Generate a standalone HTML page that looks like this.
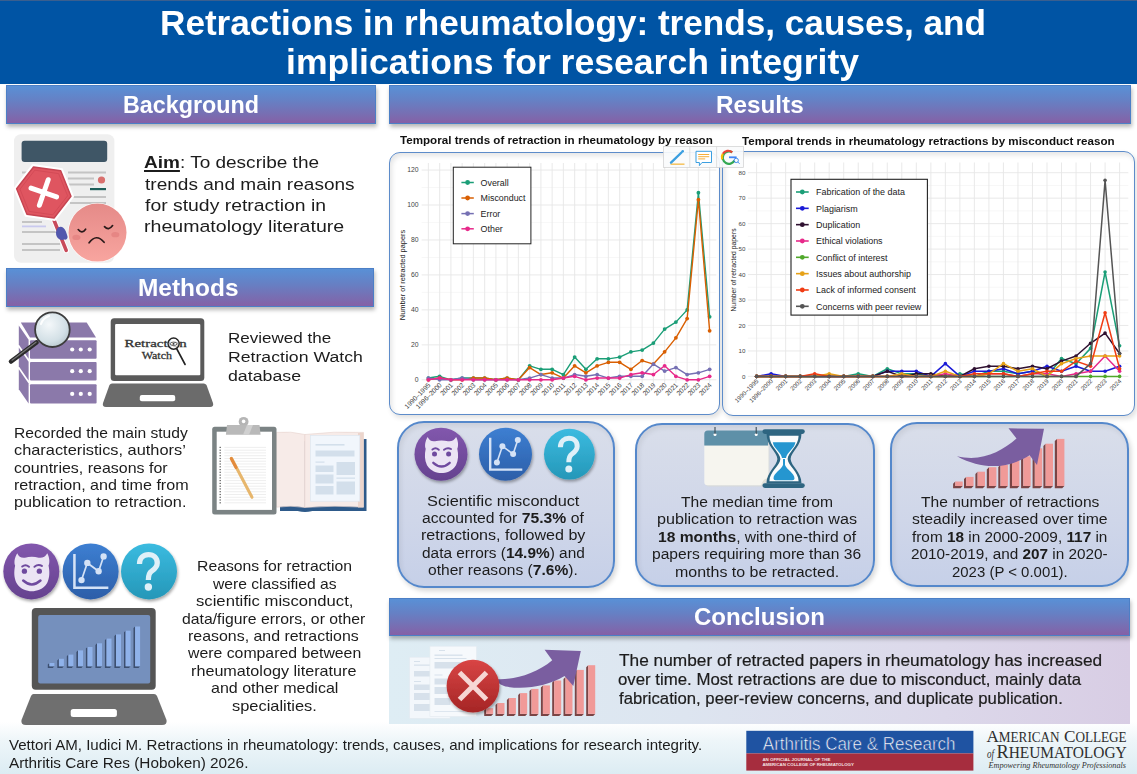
<!DOCTYPE html>
<html><head><meta charset="utf-8">
<style>
*{margin:0;padding:0;box-sizing:border-box}
html,body{width:1137px;height:774px;overflow:hidden;background:#fff}
body{position:relative;font-family:"Liberation Sans",sans-serif}
.a{position:absolute}
.t{position:absolute;white-space:nowrap;line-height:1;transform-origin:0 0}
.hdr{position:absolute;background:linear-gradient(180deg,#5990d6 0%,#6680c4 40%,#7a6cb0 80%,#8560a6 100%);border:1.3px solid #4c7fc6;box-shadow:1px 3px 4px rgba(0,0,0,0.28)}
.cbox{position:absolute;background:#fff;border:1.8px solid #5d8cca;border-radius:11px;box-shadow:inset 2px 3px 5px rgba(0,0,0,0.10),2px 3px 5px rgba(0,0,0,0.12)}
.sbox{position:absolute;background:linear-gradient(180deg,#d9deea 0%,#cfd6e9 60%,#c6d0e8 100%);border:2px solid #5588cb;border-radius:27px;box-shadow:inset 2px 3px 5px rgba(0,0,0,0.07),2px 3px 5px rgba(0,0,0,0.16)}
svg{position:absolute;left:0;top:0}
</style></head><body>
<!-- title bar -->
<div class="a" style="left:0;top:0;width:1137px;height:83.8px;background:#0054a4"></div>
<div class="a" style="left:0;top:0;width:1137px;height:1.2px;background:#3a5f8f"></div>
<!-- footer gradient -->
<div class="a" style="left:0;top:722px;width:1137px;height:52px;background:linear-gradient(180deg,#ffffff 0%,#eef6f9 35%,#dcecf3 100%)"></div>
<!-- headers -->
<div class="hdr" style="left:6px;top:85.3px;width:370px;height:38.5px"></div>
<div class="hdr" style="left:389.3px;top:85.3px;width:741.7px;height:38.5px"></div>
<div class="hdr" style="left:5.5px;top:268.3px;width:368.7px;height:38.5px"></div>
<!-- conclusion body -->
<div class="a" style="left:389px;top:635px;width:740.5px;height:88.5px;background:linear-gradient(90deg,#deedf4 0%,#dde5f0 40%,#dcd8ea 75%,#d8cde4 100%)"></div>
<div class="hdr" style="left:389px;top:597.5px;width:740.5px;height:38.3px"></div>
<!-- chart boxes -->
<div class="cbox" style="left:389.2px;top:152px;width:331.3px;height:263.4px"></div>
<div class="cbox" style="left:722.2px;top:150.5px;width:412.8px;height:265.1px"></div>
<!-- stat boxes -->
<div class="sbox" style="left:397px;top:421.2px;width:218px;height:166.8px"></div>
<div class="sbox" style="left:635px;top:422.5px;width:240px;height:164.9px"></div>
<div class="sbox" style="left:890.1px;top:421.7px;width:239.3px;height:165px"></div>
<svg width="1137" height="774" viewBox="0 0 1137 774" font-family="Liberation Sans, sans-serif">
<line x1="421.65" x2="716.4" y1="362.32" y2="362.32" stroke="#f2f2f2" stroke-width="0.6"/>
<line x1="421.65" x2="716.4" y1="327.36" y2="327.36" stroke="#f2f2f2" stroke-width="0.6"/>
<line x1="421.65" x2="716.4" y1="292.4" y2="292.4" stroke="#f2f2f2" stroke-width="0.6"/>
<line x1="421.65" x2="716.4" y1="257.44" y2="257.44" stroke="#f2f2f2" stroke-width="0.6"/>
<line x1="421.65" x2="716.4" y1="222.48" y2="222.48" stroke="#f2f2f2" stroke-width="0.6"/>
<line x1="421.65" x2="716.4" y1="187.52" y2="187.52" stroke="#f2f2f2" stroke-width="0.6"/>
<line x1="421.65" x2="716.4" y1="379.8" y2="379.8" stroke="#e6e6e6" stroke-width="0.9"/>
<line x1="421.65" x2="716.4" y1="344.84" y2="344.84" stroke="#e6e6e6" stroke-width="0.9"/>
<line x1="421.65" x2="716.4" y1="309.88" y2="309.88" stroke="#e6e6e6" stroke-width="0.9"/>
<line x1="421.65" x2="716.4" y1="274.92" y2="274.92" stroke="#e6e6e6" stroke-width="0.9"/>
<line x1="421.65" x2="716.4" y1="239.96" y2="239.96" stroke="#e6e6e6" stroke-width="0.9"/>
<line x1="421.65" x2="716.4" y1="205" y2="205" stroke="#e6e6e6" stroke-width="0.9"/>
<line x1="421.65" x2="716.4" y1="170.04" y2="170.04" stroke="#e6e6e6" stroke-width="0.9"/>
<line x1="428.4" x2="428.4" y1="163" y2="383" stroke="#e6e6e6" stroke-width="0.9"/>
<line x1="439.65" x2="439.65" y1="163" y2="383" stroke="#e6e6e6" stroke-width="0.9"/>
<line x1="450.9" x2="450.9" y1="163" y2="383" stroke="#e6e6e6" stroke-width="0.9"/>
<line x1="462.15" x2="462.15" y1="163" y2="383" stroke="#e6e6e6" stroke-width="0.9"/>
<line x1="473.4" x2="473.4" y1="163" y2="383" stroke="#e6e6e6" stroke-width="0.9"/>
<line x1="484.65" x2="484.65" y1="163" y2="383" stroke="#e6e6e6" stroke-width="0.9"/>
<line x1="495.9" x2="495.9" y1="163" y2="383" stroke="#e6e6e6" stroke-width="0.9"/>
<line x1="507.15" x2="507.15" y1="163" y2="383" stroke="#e6e6e6" stroke-width="0.9"/>
<line x1="518.4" x2="518.4" y1="163" y2="383" stroke="#e6e6e6" stroke-width="0.9"/>
<line x1="529.65" x2="529.65" y1="163" y2="383" stroke="#e6e6e6" stroke-width="0.9"/>
<line x1="540.9" x2="540.9" y1="163" y2="383" stroke="#e6e6e6" stroke-width="0.9"/>
<line x1="552.15" x2="552.15" y1="163" y2="383" stroke="#e6e6e6" stroke-width="0.9"/>
<line x1="563.4" x2="563.4" y1="163" y2="383" stroke="#e6e6e6" stroke-width="0.9"/>
<line x1="574.65" x2="574.65" y1="163" y2="383" stroke="#e6e6e6" stroke-width="0.9"/>
<line x1="585.9" x2="585.9" y1="163" y2="383" stroke="#e6e6e6" stroke-width="0.9"/>
<line x1="597.15" x2="597.15" y1="163" y2="383" stroke="#e6e6e6" stroke-width="0.9"/>
<line x1="608.4" x2="608.4" y1="163" y2="383" stroke="#e6e6e6" stroke-width="0.9"/>
<line x1="619.65" x2="619.65" y1="163" y2="383" stroke="#e6e6e6" stroke-width="0.9"/>
<line x1="630.9" x2="630.9" y1="163" y2="383" stroke="#e6e6e6" stroke-width="0.9"/>
<line x1="642.15" x2="642.15" y1="163" y2="383" stroke="#e6e6e6" stroke-width="0.9"/>
<line x1="653.4" x2="653.4" y1="163" y2="383" stroke="#e6e6e6" stroke-width="0.9"/>
<line x1="664.65" x2="664.65" y1="163" y2="383" stroke="#e6e6e6" stroke-width="0.9"/>
<line x1="675.9" x2="675.9" y1="163" y2="383" stroke="#e6e6e6" stroke-width="0.9"/>
<line x1="687.15" x2="687.15" y1="163" y2="383" stroke="#e6e6e6" stroke-width="0.9"/>
<line x1="698.4" x2="698.4" y1="163" y2="383" stroke="#e6e6e6" stroke-width="0.9"/>
<line x1="709.65" x2="709.65" y1="163" y2="383" stroke="#e6e6e6" stroke-width="0.9"/>
<text x="418.5" y="382.2" text-anchor="end" font-size="6.8" fill="#444">0</text>
<text x="418.5" y="347.24" text-anchor="end" font-size="6.8" fill="#444">20</text>
<text x="418.5" y="312.28" text-anchor="end" font-size="6.8" fill="#444">40</text>
<text x="418.5" y="277.32" text-anchor="end" font-size="6.8" fill="#444">60</text>
<text x="418.5" y="242.36" text-anchor="end" font-size="6.8" fill="#444">80</text>
<text x="418.5" y="207.4" text-anchor="end" font-size="6.8" fill="#444">100</text>
<text x="418.5" y="172.44" text-anchor="end" font-size="6.8" fill="#444">120</text>
<text x="431" y="385.5" text-anchor="end" font-size="6.7" fill="#3a3a3a" transform="rotate(-45 431 385.5)">1990–1995</text>
<text x="442.25" y="385.5" text-anchor="end" font-size="6.7" fill="#3a3a3a" transform="rotate(-45 442.25 385.5)">1996–2000</text>
<text x="453.5" y="385.5" text-anchor="end" font-size="6.7" fill="#3a3a3a" transform="rotate(-45 453.5 385.5)">2001</text>
<text x="464.75" y="385.5" text-anchor="end" font-size="6.7" fill="#3a3a3a" transform="rotate(-45 464.75 385.5)">2002</text>
<text x="476" y="385.5" text-anchor="end" font-size="6.7" fill="#3a3a3a" transform="rotate(-45 476 385.5)">2003</text>
<text x="487.25" y="385.5" text-anchor="end" font-size="6.7" fill="#3a3a3a" transform="rotate(-45 487.25 385.5)">2004</text>
<text x="498.5" y="385.5" text-anchor="end" font-size="6.7" fill="#3a3a3a" transform="rotate(-45 498.5 385.5)">2005</text>
<text x="509.75" y="385.5" text-anchor="end" font-size="6.7" fill="#3a3a3a" transform="rotate(-45 509.75 385.5)">2006</text>
<text x="521" y="385.5" text-anchor="end" font-size="6.7" fill="#3a3a3a" transform="rotate(-45 521 385.5)">2007</text>
<text x="532.25" y="385.5" text-anchor="end" font-size="6.7" fill="#3a3a3a" transform="rotate(-45 532.25 385.5)">2008</text>
<text x="543.5" y="385.5" text-anchor="end" font-size="6.7" fill="#3a3a3a" transform="rotate(-45 543.5 385.5)">2009</text>
<text x="554.75" y="385.5" text-anchor="end" font-size="6.7" fill="#3a3a3a" transform="rotate(-45 554.75 385.5)">2010</text>
<text x="566" y="385.5" text-anchor="end" font-size="6.7" fill="#3a3a3a" transform="rotate(-45 566 385.5)">2011</text>
<text x="577.25" y="385.5" text-anchor="end" font-size="6.7" fill="#3a3a3a" transform="rotate(-45 577.25 385.5)">2012</text>
<text x="588.5" y="385.5" text-anchor="end" font-size="6.7" fill="#3a3a3a" transform="rotate(-45 588.5 385.5)">2013</text>
<text x="599.75" y="385.5" text-anchor="end" font-size="6.7" fill="#3a3a3a" transform="rotate(-45 599.75 385.5)">2014</text>
<text x="611" y="385.5" text-anchor="end" font-size="6.7" fill="#3a3a3a" transform="rotate(-45 611 385.5)">2015</text>
<text x="622.25" y="385.5" text-anchor="end" font-size="6.7" fill="#3a3a3a" transform="rotate(-45 622.25 385.5)">2016</text>
<text x="633.5" y="385.5" text-anchor="end" font-size="6.7" fill="#3a3a3a" transform="rotate(-45 633.5 385.5)">2017</text>
<text x="644.75" y="385.5" text-anchor="end" font-size="6.7" fill="#3a3a3a" transform="rotate(-45 644.75 385.5)">2018</text>
<text x="656" y="385.5" text-anchor="end" font-size="6.7" fill="#3a3a3a" transform="rotate(-45 656 385.5)">2019</text>
<text x="667.25" y="385.5" text-anchor="end" font-size="6.7" fill="#3a3a3a" transform="rotate(-45 667.25 385.5)">2020</text>
<text x="678.5" y="385.5" text-anchor="end" font-size="6.7" fill="#3a3a3a" transform="rotate(-45 678.5 385.5)">2021</text>
<text x="689.75" y="385.5" text-anchor="end" font-size="6.7" fill="#3a3a3a" transform="rotate(-45 689.75 385.5)">2022</text>
<text x="701" y="385.5" text-anchor="end" font-size="6.7" fill="#3a3a3a" transform="rotate(-45 701 385.5)">2023</text>
<text x="712.25" y="385.5" text-anchor="end" font-size="6.7" fill="#3a3a3a" transform="rotate(-45 712.25 385.5)">2024</text>
<text x="0" y="0" text-anchor="middle" font-size="7.4" fill="#222" transform="translate(404.6 275) rotate(-90)">Number of retracted papers</text>
<polyline points="428.4,378.05 439.65,376.3 450.9,379.8 462.15,378.05 473.4,378.05 484.65,378.05 495.9,379.8 507.15,378.05 518.4,379.8 529.65,365.82 540.9,369.31 552.15,369.31 563.4,374.56 574.65,357.08 585.9,369.31 597.15,358.82 608.4,358.82 619.65,357.08 630.9,351.83 642.15,350.08 653.4,343.09 664.65,329.11 675.9,322.12 687.15,309.88 698.4,192.76 709.65,316.87" fill="none" stroke="#1b9e77" stroke-width="1.4" stroke-linejoin="round"/>
<circle cx="428.4" cy="378.05" r="1.9" fill="#1b9e77"/>
<circle cx="439.65" cy="376.3" r="1.9" fill="#1b9e77"/>
<circle cx="450.9" cy="379.8" r="1.9" fill="#1b9e77"/>
<circle cx="462.15" cy="378.05" r="1.9" fill="#1b9e77"/>
<circle cx="473.4" cy="378.05" r="1.9" fill="#1b9e77"/>
<circle cx="484.65" cy="378.05" r="1.9" fill="#1b9e77"/>
<circle cx="495.9" cy="379.8" r="1.9" fill="#1b9e77"/>
<circle cx="507.15" cy="378.05" r="1.9" fill="#1b9e77"/>
<circle cx="518.4" cy="379.8" r="1.9" fill="#1b9e77"/>
<circle cx="529.65" cy="365.82" r="1.9" fill="#1b9e77"/>
<circle cx="540.9" cy="369.31" r="1.9" fill="#1b9e77"/>
<circle cx="552.15" cy="369.31" r="1.9" fill="#1b9e77"/>
<circle cx="563.4" cy="374.56" r="1.9" fill="#1b9e77"/>
<circle cx="574.65" cy="357.08" r="1.9" fill="#1b9e77"/>
<circle cx="585.9" cy="369.31" r="1.9" fill="#1b9e77"/>
<circle cx="597.15" cy="358.82" r="1.9" fill="#1b9e77"/>
<circle cx="608.4" cy="358.82" r="1.9" fill="#1b9e77"/>
<circle cx="619.65" cy="357.08" r="1.9" fill="#1b9e77"/>
<circle cx="630.9" cy="351.83" r="1.9" fill="#1b9e77"/>
<circle cx="642.15" cy="350.08" r="1.9" fill="#1b9e77"/>
<circle cx="653.4" cy="343.09" r="1.9" fill="#1b9e77"/>
<circle cx="664.65" cy="329.11" r="1.9" fill="#1b9e77"/>
<circle cx="675.9" cy="322.12" r="1.9" fill="#1b9e77"/>
<circle cx="687.15" cy="309.88" r="1.9" fill="#1b9e77"/>
<circle cx="698.4" cy="192.76" r="1.9" fill="#1b9e77"/>
<circle cx="709.65" cy="316.87" r="1.9" fill="#1b9e77"/>
<polyline points="428.4,379.8 439.65,378.05 450.9,379.8 462.15,379.8 473.4,378.05 484.65,378.05 495.9,379.8 507.15,378.05 518.4,379.8 529.65,367.56 540.9,374.56 552.15,372.81 563.4,378.05 574.65,365.82 585.9,372.81 597.15,365.82 608.4,362.32 619.65,362.32 630.9,369.31 642.15,360.57 653.4,364.07 664.65,351.83 675.9,337.85 687.15,318.62 698.4,199.76 709.65,330.86" fill="none" stroke="#d95f02" stroke-width="1.4" stroke-linejoin="round"/>
<circle cx="428.4" cy="379.8" r="1.9" fill="#d95f02"/>
<circle cx="439.65" cy="378.05" r="1.9" fill="#d95f02"/>
<circle cx="450.9" cy="379.8" r="1.9" fill="#d95f02"/>
<circle cx="462.15" cy="379.8" r="1.9" fill="#d95f02"/>
<circle cx="473.4" cy="378.05" r="1.9" fill="#d95f02"/>
<circle cx="484.65" cy="378.05" r="1.9" fill="#d95f02"/>
<circle cx="495.9" cy="379.8" r="1.9" fill="#d95f02"/>
<circle cx="507.15" cy="378.05" r="1.9" fill="#d95f02"/>
<circle cx="518.4" cy="379.8" r="1.9" fill="#d95f02"/>
<circle cx="529.65" cy="367.56" r="1.9" fill="#d95f02"/>
<circle cx="540.9" cy="374.56" r="1.9" fill="#d95f02"/>
<circle cx="552.15" cy="372.81" r="1.9" fill="#d95f02"/>
<circle cx="563.4" cy="378.05" r="1.9" fill="#d95f02"/>
<circle cx="574.65" cy="365.82" r="1.9" fill="#d95f02"/>
<circle cx="585.9" cy="372.81" r="1.9" fill="#d95f02"/>
<circle cx="597.15" cy="365.82" r="1.9" fill="#d95f02"/>
<circle cx="608.4" cy="362.32" r="1.9" fill="#d95f02"/>
<circle cx="619.65" cy="362.32" r="1.9" fill="#d95f02"/>
<circle cx="630.9" cy="369.31" r="1.9" fill="#d95f02"/>
<circle cx="642.15" cy="360.57" r="1.9" fill="#d95f02"/>
<circle cx="653.4" cy="364.07" r="1.9" fill="#d95f02"/>
<circle cx="664.65" cy="351.83" r="1.9" fill="#d95f02"/>
<circle cx="675.9" cy="337.85" r="1.9" fill="#d95f02"/>
<circle cx="687.15" cy="318.62" r="1.9" fill="#d95f02"/>
<circle cx="698.4" cy="199.76" r="1.9" fill="#d95f02"/>
<circle cx="709.65" cy="330.86" r="1.9" fill="#d95f02"/>
<polyline points="428.4,378.05 439.65,379.8 450.9,379.8 462.15,378.05 473.4,379.8 484.65,379.8 495.9,379.8 507.15,379.8 518.4,379.8 529.65,378.05 540.9,374.56 552.15,378.05 563.4,378.05 574.65,374.56 585.9,376.3 597.15,374.56 608.4,378.05 619.65,376.3 630.9,376.3 642.15,376.3 653.4,364.07 664.65,371.06 675.9,367.56 687.15,374.56 698.4,372.81 709.65,369.31" fill="none" stroke="#7570b3" stroke-width="1.4" stroke-linejoin="round"/>
<circle cx="428.4" cy="378.05" r="1.9" fill="#7570b3"/>
<circle cx="439.65" cy="379.8" r="1.9" fill="#7570b3"/>
<circle cx="450.9" cy="379.8" r="1.9" fill="#7570b3"/>
<circle cx="462.15" cy="378.05" r="1.9" fill="#7570b3"/>
<circle cx="473.4" cy="379.8" r="1.9" fill="#7570b3"/>
<circle cx="484.65" cy="379.8" r="1.9" fill="#7570b3"/>
<circle cx="495.9" cy="379.8" r="1.9" fill="#7570b3"/>
<circle cx="507.15" cy="379.8" r="1.9" fill="#7570b3"/>
<circle cx="518.4" cy="379.8" r="1.9" fill="#7570b3"/>
<circle cx="529.65" cy="378.05" r="1.9" fill="#7570b3"/>
<circle cx="540.9" cy="374.56" r="1.9" fill="#7570b3"/>
<circle cx="552.15" cy="378.05" r="1.9" fill="#7570b3"/>
<circle cx="563.4" cy="378.05" r="1.9" fill="#7570b3"/>
<circle cx="574.65" cy="374.56" r="1.9" fill="#7570b3"/>
<circle cx="585.9" cy="376.3" r="1.9" fill="#7570b3"/>
<circle cx="597.15" cy="374.56" r="1.9" fill="#7570b3"/>
<circle cx="608.4" cy="378.05" r="1.9" fill="#7570b3"/>
<circle cx="619.65" cy="376.3" r="1.9" fill="#7570b3"/>
<circle cx="630.9" cy="376.3" r="1.9" fill="#7570b3"/>
<circle cx="642.15" cy="376.3" r="1.9" fill="#7570b3"/>
<circle cx="653.4" cy="364.07" r="1.9" fill="#7570b3"/>
<circle cx="664.65" cy="371.06" r="1.9" fill="#7570b3"/>
<circle cx="675.9" cy="367.56" r="1.9" fill="#7570b3"/>
<circle cx="687.15" cy="374.56" r="1.9" fill="#7570b3"/>
<circle cx="698.4" cy="372.81" r="1.9" fill="#7570b3"/>
<circle cx="709.65" cy="369.31" r="1.9" fill="#7570b3"/>
<polyline points="428.4,379.8 439.65,378.05 450.9,379.8 462.15,379.8 473.4,379.8 484.65,379.8 495.9,379.8 507.15,379.8 518.4,379.8 529.65,379.8 540.9,379.8 552.15,379.8 563.4,378.05 574.65,376.3 585.9,379.8 597.15,378.05 608.4,378.05 619.65,378.05 630.9,374.56 642.15,372.81 653.4,374.56 664.65,365.82 675.9,376.3 687.15,379.8 698.4,379.8 709.65,376.3" fill="none" stroke="#e7298a" stroke-width="1.4" stroke-linejoin="round"/>
<circle cx="428.4" cy="379.8" r="1.9" fill="#e7298a"/>
<circle cx="439.65" cy="378.05" r="1.9" fill="#e7298a"/>
<circle cx="450.9" cy="379.8" r="1.9" fill="#e7298a"/>
<circle cx="462.15" cy="379.8" r="1.9" fill="#e7298a"/>
<circle cx="473.4" cy="379.8" r="1.9" fill="#e7298a"/>
<circle cx="484.65" cy="379.8" r="1.9" fill="#e7298a"/>
<circle cx="495.9" cy="379.8" r="1.9" fill="#e7298a"/>
<circle cx="507.15" cy="379.8" r="1.9" fill="#e7298a"/>
<circle cx="518.4" cy="379.8" r="1.9" fill="#e7298a"/>
<circle cx="529.65" cy="379.8" r="1.9" fill="#e7298a"/>
<circle cx="540.9" cy="379.8" r="1.9" fill="#e7298a"/>
<circle cx="552.15" cy="379.8" r="1.9" fill="#e7298a"/>
<circle cx="563.4" cy="378.05" r="1.9" fill="#e7298a"/>
<circle cx="574.65" cy="376.3" r="1.9" fill="#e7298a"/>
<circle cx="585.9" cy="379.8" r="1.9" fill="#e7298a"/>
<circle cx="597.15" cy="378.05" r="1.9" fill="#e7298a"/>
<circle cx="608.4" cy="378.05" r="1.9" fill="#e7298a"/>
<circle cx="619.65" cy="378.05" r="1.9" fill="#e7298a"/>
<circle cx="630.9" cy="374.56" r="1.9" fill="#e7298a"/>
<circle cx="642.15" cy="372.81" r="1.9" fill="#e7298a"/>
<circle cx="653.4" cy="374.56" r="1.9" fill="#e7298a"/>
<circle cx="664.65" cy="365.82" r="1.9" fill="#e7298a"/>
<circle cx="675.9" cy="376.3" r="1.9" fill="#e7298a"/>
<circle cx="687.15" cy="379.8" r="1.9" fill="#e7298a"/>
<circle cx="698.4" cy="379.8" r="1.9" fill="#e7298a"/>
<circle cx="709.65" cy="376.3" r="1.9" fill="#e7298a"/>
<rect x="453.3" y="167.2" width="77.6" height="76.6" fill="#fff" stroke="#222" stroke-width="1"/>
<line x1="461.4" x2="473.8" y1="182.5" y2="182.5" stroke="#1b9e77" stroke-width="1.5"/>
<circle cx="467.6" cy="182.5" r="2.4" fill="#1b9e77"/>
<text x="480.6" y="185.7" font-size="8.9" fill="#222">Overall</text>
<line x1="461.4" x2="473.8" y1="198.0" y2="198.0" stroke="#d95f02" stroke-width="1.5"/>
<circle cx="467.6" cy="198.0" r="2.4" fill="#d95f02"/>
<text x="480.6" y="201.2" font-size="8.9" fill="#222">Misconduct</text>
<line x1="461.4" x2="473.8" y1="213.6" y2="213.6" stroke="#7570b3" stroke-width="1.5"/>
<circle cx="467.6" cy="213.6" r="2.4" fill="#7570b3"/>
<text x="480.6" y="216.8" font-size="8.9" fill="#222">Error</text>
<line x1="461.4" x2="473.8" y1="228.8" y2="228.8" stroke="#e7298a" stroke-width="1.5"/>
<circle cx="467.6" cy="228.8" r="2.4" fill="#e7298a"/>
<text x="480.6" y="232" font-size="8.9" fill="#222">Other</text>
<line x1="747.89" x2="1128.31" y1="363.67" y2="363.67" stroke="#f2f2f2" stroke-width="0.6"/>
<line x1="747.89" x2="1128.31" y1="338.21" y2="338.21" stroke="#f2f2f2" stroke-width="0.6"/>
<line x1="747.89" x2="1128.31" y1="312.75" y2="312.75" stroke="#f2f2f2" stroke-width="0.6"/>
<line x1="747.89" x2="1128.31" y1="287.29" y2="287.29" stroke="#f2f2f2" stroke-width="0.6"/>
<line x1="747.89" x2="1128.31" y1="261.83" y2="261.83" stroke="#f2f2f2" stroke-width="0.6"/>
<line x1="747.89" x2="1128.31" y1="236.37" y2="236.37" stroke="#f2f2f2" stroke-width="0.6"/>
<line x1="747.89" x2="1128.31" y1="210.91" y2="210.91" stroke="#f2f2f2" stroke-width="0.6"/>
<line x1="747.89" x2="1128.31" y1="185.45" y2="185.45" stroke="#f2f2f2" stroke-width="0.6"/>
<line x1="747.89" x2="1128.31" y1="376.4" y2="376.4" stroke="#e6e6e6" stroke-width="0.9"/>
<line x1="747.89" x2="1128.31" y1="350.94" y2="350.94" stroke="#e6e6e6" stroke-width="0.9"/>
<line x1="747.89" x2="1128.31" y1="325.48" y2="325.48" stroke="#e6e6e6" stroke-width="0.9"/>
<line x1="747.89" x2="1128.31" y1="300.02" y2="300.02" stroke="#e6e6e6" stroke-width="0.9"/>
<line x1="747.89" x2="1128.31" y1="274.56" y2="274.56" stroke="#e6e6e6" stroke-width="0.9"/>
<line x1="747.89" x2="1128.31" y1="249.1" y2="249.1" stroke="#e6e6e6" stroke-width="0.9"/>
<line x1="747.89" x2="1128.31" y1="223.64" y2="223.64" stroke="#e6e6e6" stroke-width="0.9"/>
<line x1="747.89" x2="1128.31" y1="198.18" y2="198.18" stroke="#e6e6e6" stroke-width="0.9"/>
<line x1="747.89" x2="1128.31" y1="172.72" y2="172.72" stroke="#e6e6e6" stroke-width="0.9"/>
<line x1="756.6" x2="756.6" y1="162.5" y2="380" stroke="#e6e6e6" stroke-width="0.9"/>
<line x1="771.12" x2="771.12" y1="162.5" y2="380" stroke="#e6e6e6" stroke-width="0.9"/>
<line x1="785.64" x2="785.64" y1="162.5" y2="380" stroke="#e6e6e6" stroke-width="0.9"/>
<line x1="800.16" x2="800.16" y1="162.5" y2="380" stroke="#e6e6e6" stroke-width="0.9"/>
<line x1="814.68" x2="814.68" y1="162.5" y2="380" stroke="#e6e6e6" stroke-width="0.9"/>
<line x1="829.2" x2="829.2" y1="162.5" y2="380" stroke="#e6e6e6" stroke-width="0.9"/>
<line x1="843.72" x2="843.72" y1="162.5" y2="380" stroke="#e6e6e6" stroke-width="0.9"/>
<line x1="858.24" x2="858.24" y1="162.5" y2="380" stroke="#e6e6e6" stroke-width="0.9"/>
<line x1="872.76" x2="872.76" y1="162.5" y2="380" stroke="#e6e6e6" stroke-width="0.9"/>
<line x1="887.28" x2="887.28" y1="162.5" y2="380" stroke="#e6e6e6" stroke-width="0.9"/>
<line x1="901.8" x2="901.8" y1="162.5" y2="380" stroke="#e6e6e6" stroke-width="0.9"/>
<line x1="916.32" x2="916.32" y1="162.5" y2="380" stroke="#e6e6e6" stroke-width="0.9"/>
<line x1="930.84" x2="930.84" y1="162.5" y2="380" stroke="#e6e6e6" stroke-width="0.9"/>
<line x1="945.36" x2="945.36" y1="162.5" y2="380" stroke="#e6e6e6" stroke-width="0.9"/>
<line x1="959.88" x2="959.88" y1="162.5" y2="380" stroke="#e6e6e6" stroke-width="0.9"/>
<line x1="974.4" x2="974.4" y1="162.5" y2="380" stroke="#e6e6e6" stroke-width="0.9"/>
<line x1="988.92" x2="988.92" y1="162.5" y2="380" stroke="#e6e6e6" stroke-width="0.9"/>
<line x1="1003.44" x2="1003.44" y1="162.5" y2="380" stroke="#e6e6e6" stroke-width="0.9"/>
<line x1="1017.96" x2="1017.96" y1="162.5" y2="380" stroke="#e6e6e6" stroke-width="0.9"/>
<line x1="1032.48" x2="1032.48" y1="162.5" y2="380" stroke="#e6e6e6" stroke-width="0.9"/>
<line x1="1047" x2="1047" y1="162.5" y2="380" stroke="#e6e6e6" stroke-width="0.9"/>
<line x1="1061.52" x2="1061.52" y1="162.5" y2="380" stroke="#e6e6e6" stroke-width="0.9"/>
<line x1="1076.04" x2="1076.04" y1="162.5" y2="380" stroke="#e6e6e6" stroke-width="0.9"/>
<line x1="1090.56" x2="1090.56" y1="162.5" y2="380" stroke="#e6e6e6" stroke-width="0.9"/>
<line x1="1105.08" x2="1105.08" y1="162.5" y2="380" stroke="#e6e6e6" stroke-width="0.9"/>
<line x1="1119.6" x2="1119.6" y1="162.5" y2="380" stroke="#e6e6e6" stroke-width="0.9"/>
<text x="745.5" y="378.6" text-anchor="end" font-size="6.2" fill="#444">0</text>
<text x="745.5" y="353.14" text-anchor="end" font-size="6.2" fill="#444">10</text>
<text x="745.5" y="327.68" text-anchor="end" font-size="6.2" fill="#444">20</text>
<text x="745.5" y="302.22" text-anchor="end" font-size="6.2" fill="#444">30</text>
<text x="745.5" y="276.76" text-anchor="end" font-size="6.2" fill="#444">40</text>
<text x="745.5" y="251.3" text-anchor="end" font-size="6.2" fill="#444">50</text>
<text x="745.5" y="225.84" text-anchor="end" font-size="6.2" fill="#444">60</text>
<text x="745.5" y="200.38" text-anchor="end" font-size="6.2" fill="#444">70</text>
<text x="745.5" y="174.92" text-anchor="end" font-size="6.2" fill="#444">80</text>
<text x="758.8" y="381.5" text-anchor="end" font-size="6.1" fill="#3a3a3a" transform="rotate(-45 758.8 381.5)">1990–1995</text>
<text x="773.32" y="381.5" text-anchor="end" font-size="6.1" fill="#3a3a3a" transform="rotate(-45 773.32 381.5)">1996–2000</text>
<text x="787.84" y="381.5" text-anchor="end" font-size="6.1" fill="#3a3a3a" transform="rotate(-45 787.84 381.5)">2001</text>
<text x="802.36" y="381.5" text-anchor="end" font-size="6.1" fill="#3a3a3a" transform="rotate(-45 802.36 381.5)">2002</text>
<text x="816.88" y="381.5" text-anchor="end" font-size="6.1" fill="#3a3a3a" transform="rotate(-45 816.88 381.5)">2003</text>
<text x="831.4" y="381.5" text-anchor="end" font-size="6.1" fill="#3a3a3a" transform="rotate(-45 831.4 381.5)">2004</text>
<text x="845.92" y="381.5" text-anchor="end" font-size="6.1" fill="#3a3a3a" transform="rotate(-45 845.92 381.5)">2005</text>
<text x="860.44" y="381.5" text-anchor="end" font-size="6.1" fill="#3a3a3a" transform="rotate(-45 860.44 381.5)">2006</text>
<text x="874.96" y="381.5" text-anchor="end" font-size="6.1" fill="#3a3a3a" transform="rotate(-45 874.96 381.5)">2007</text>
<text x="889.48" y="381.5" text-anchor="end" font-size="6.1" fill="#3a3a3a" transform="rotate(-45 889.48 381.5)">2008</text>
<text x="904" y="381.5" text-anchor="end" font-size="6.1" fill="#3a3a3a" transform="rotate(-45 904 381.5)">2009</text>
<text x="918.52" y="381.5" text-anchor="end" font-size="6.1" fill="#3a3a3a" transform="rotate(-45 918.52 381.5)">2010</text>
<text x="933.04" y="381.5" text-anchor="end" font-size="6.1" fill="#3a3a3a" transform="rotate(-45 933.04 381.5)">2011</text>
<text x="947.56" y="381.5" text-anchor="end" font-size="6.1" fill="#3a3a3a" transform="rotate(-45 947.56 381.5)">2012</text>
<text x="962.08" y="381.5" text-anchor="end" font-size="6.1" fill="#3a3a3a" transform="rotate(-45 962.08 381.5)">2013</text>
<text x="976.6" y="381.5" text-anchor="end" font-size="6.1" fill="#3a3a3a" transform="rotate(-45 976.6 381.5)">2014</text>
<text x="991.12" y="381.5" text-anchor="end" font-size="6.1" fill="#3a3a3a" transform="rotate(-45 991.12 381.5)">2015</text>
<text x="1005.64" y="381.5" text-anchor="end" font-size="6.1" fill="#3a3a3a" transform="rotate(-45 1005.64 381.5)">2016</text>
<text x="1020.16" y="381.5" text-anchor="end" font-size="6.1" fill="#3a3a3a" transform="rotate(-45 1020.16 381.5)">2017</text>
<text x="1034.68" y="381.5" text-anchor="end" font-size="6.1" fill="#3a3a3a" transform="rotate(-45 1034.68 381.5)">2018</text>
<text x="1049.2" y="381.5" text-anchor="end" font-size="6.1" fill="#3a3a3a" transform="rotate(-45 1049.2 381.5)">2019</text>
<text x="1063.72" y="381.5" text-anchor="end" font-size="6.1" fill="#3a3a3a" transform="rotate(-45 1063.72 381.5)">2020</text>
<text x="1078.24" y="381.5" text-anchor="end" font-size="6.1" fill="#3a3a3a" transform="rotate(-45 1078.24 381.5)">2021</text>
<text x="1092.76" y="381.5" text-anchor="end" font-size="6.1" fill="#3a3a3a" transform="rotate(-45 1092.76 381.5)">2022</text>
<text x="1107.28" y="381.5" text-anchor="end" font-size="6.1" fill="#3a3a3a" transform="rotate(-45 1107.28 381.5)">2023</text>
<text x="1121.8" y="381.5" text-anchor="end" font-size="6.1" fill="#3a3a3a" transform="rotate(-45 1121.8 381.5)">2024</text>
<text x="0" y="0" text-anchor="middle" font-size="6.8" fill="#222" transform="translate(735.6 270) rotate(-90)">Number of retracted papers</text>
<polyline points="756.6,376.4 771.12,376.4 785.64,376.4 800.16,376.4 814.68,376.4 829.2,376.4 843.72,376.4 858.24,373.85 872.76,376.4 887.28,368.76 901.8,373.85 916.32,373.85 930.84,376.4 945.36,376.4 959.88,373.85 974.4,376.4 988.92,371.31 1003.44,371.31 1017.96,373.85 1032.48,371.31 1047,376.4 1061.52,358.58 1076.04,363.67 1090.56,348.39 1105.08,272.01 1119.6,345.85" fill="none" stroke="#1b9e77" stroke-width="1.5" stroke-linejoin="round"/>
<circle cx="756.6" cy="376.4" r="1.8" fill="#1b9e77"/>
<circle cx="771.12" cy="376.4" r="1.8" fill="#1b9e77"/>
<circle cx="785.64" cy="376.4" r="1.8" fill="#1b9e77"/>
<circle cx="800.16" cy="376.4" r="1.8" fill="#1b9e77"/>
<circle cx="814.68" cy="376.4" r="1.8" fill="#1b9e77"/>
<circle cx="829.2" cy="376.4" r="1.8" fill="#1b9e77"/>
<circle cx="843.72" cy="376.4" r="1.8" fill="#1b9e77"/>
<circle cx="858.24" cy="373.85" r="1.8" fill="#1b9e77"/>
<circle cx="872.76" cy="376.4" r="1.8" fill="#1b9e77"/>
<circle cx="887.28" cy="368.76" r="1.8" fill="#1b9e77"/>
<circle cx="901.8" cy="373.85" r="1.8" fill="#1b9e77"/>
<circle cx="916.32" cy="373.85" r="1.8" fill="#1b9e77"/>
<circle cx="930.84" cy="376.4" r="1.8" fill="#1b9e77"/>
<circle cx="945.36" cy="376.4" r="1.8" fill="#1b9e77"/>
<circle cx="959.88" cy="373.85" r="1.8" fill="#1b9e77"/>
<circle cx="974.4" cy="376.4" r="1.8" fill="#1b9e77"/>
<circle cx="988.92" cy="371.31" r="1.8" fill="#1b9e77"/>
<circle cx="1003.44" cy="371.31" r="1.8" fill="#1b9e77"/>
<circle cx="1017.96" cy="373.85" r="1.8" fill="#1b9e77"/>
<circle cx="1032.48" cy="371.31" r="1.8" fill="#1b9e77"/>
<circle cx="1047" cy="376.4" r="1.8" fill="#1b9e77"/>
<circle cx="1061.52" cy="358.58" r="1.8" fill="#1b9e77"/>
<circle cx="1076.04" cy="363.67" r="1.8" fill="#1b9e77"/>
<circle cx="1090.56" cy="348.39" r="1.8" fill="#1b9e77"/>
<circle cx="1105.08" cy="272.01" r="1.8" fill="#1b9e77"/>
<circle cx="1119.6" cy="345.85" r="1.8" fill="#1b9e77"/>
<polyline points="756.6,376.4 771.12,373.85 785.64,376.4 800.16,376.4 814.68,376.4 829.2,376.4 843.72,376.4 858.24,376.4 872.76,376.4 887.28,371.31 901.8,371.31 916.32,371.31 930.84,376.4 945.36,363.67 959.88,376.4 974.4,371.31 988.92,371.31 1003.44,368.76 1017.96,373.85 1032.48,371.31 1047,366.22 1061.52,371.31 1076.04,366.22 1090.56,371.31 1105.08,371.31 1119.6,366.22" fill="none" stroke="#1a1ad6" stroke-width="1.5" stroke-linejoin="round"/>
<circle cx="756.6" cy="376.4" r="1.8" fill="#1a1ad6"/>
<circle cx="771.12" cy="373.85" r="1.8" fill="#1a1ad6"/>
<circle cx="785.64" cy="376.4" r="1.8" fill="#1a1ad6"/>
<circle cx="800.16" cy="376.4" r="1.8" fill="#1a1ad6"/>
<circle cx="814.68" cy="376.4" r="1.8" fill="#1a1ad6"/>
<circle cx="829.2" cy="376.4" r="1.8" fill="#1a1ad6"/>
<circle cx="843.72" cy="376.4" r="1.8" fill="#1a1ad6"/>
<circle cx="858.24" cy="376.4" r="1.8" fill="#1a1ad6"/>
<circle cx="872.76" cy="376.4" r="1.8" fill="#1a1ad6"/>
<circle cx="887.28" cy="371.31" r="1.8" fill="#1a1ad6"/>
<circle cx="901.8" cy="371.31" r="1.8" fill="#1a1ad6"/>
<circle cx="916.32" cy="371.31" r="1.8" fill="#1a1ad6"/>
<circle cx="930.84" cy="376.4" r="1.8" fill="#1a1ad6"/>
<circle cx="945.36" cy="363.67" r="1.8" fill="#1a1ad6"/>
<circle cx="959.88" cy="376.4" r="1.8" fill="#1a1ad6"/>
<circle cx="974.4" cy="371.31" r="1.8" fill="#1a1ad6"/>
<circle cx="988.92" cy="371.31" r="1.8" fill="#1a1ad6"/>
<circle cx="1003.44" cy="368.76" r="1.8" fill="#1a1ad6"/>
<circle cx="1017.96" cy="373.85" r="1.8" fill="#1a1ad6"/>
<circle cx="1032.48" cy="371.31" r="1.8" fill="#1a1ad6"/>
<circle cx="1047" cy="366.22" r="1.8" fill="#1a1ad6"/>
<circle cx="1061.52" cy="371.31" r="1.8" fill="#1a1ad6"/>
<circle cx="1076.04" cy="366.22" r="1.8" fill="#1a1ad6"/>
<circle cx="1090.56" cy="371.31" r="1.8" fill="#1a1ad6"/>
<circle cx="1105.08" cy="371.31" r="1.8" fill="#1a1ad6"/>
<circle cx="1119.6" cy="366.22" r="1.8" fill="#1a1ad6"/>
<polyline points="756.6,376.4 771.12,376.4 785.64,376.4 800.16,376.4 814.68,376.4 829.2,376.4 843.72,376.4 858.24,376.4 872.76,376.4 887.28,371.31 901.8,376.4 916.32,373.85 930.84,373.85 945.36,376.4 959.88,376.4 974.4,368.76 988.92,366.22 1003.44,366.22 1017.96,368.76 1032.48,366.22 1047,368.76 1061.52,361.12 1076.04,356.03 1090.56,343.3 1105.08,333.12 1119.6,353.49" fill="none" stroke="#2e1030" stroke-width="1.5" stroke-linejoin="round"/>
<circle cx="756.6" cy="376.4" r="1.8" fill="#2e1030"/>
<circle cx="771.12" cy="376.4" r="1.8" fill="#2e1030"/>
<circle cx="785.64" cy="376.4" r="1.8" fill="#2e1030"/>
<circle cx="800.16" cy="376.4" r="1.8" fill="#2e1030"/>
<circle cx="814.68" cy="376.4" r="1.8" fill="#2e1030"/>
<circle cx="829.2" cy="376.4" r="1.8" fill="#2e1030"/>
<circle cx="843.72" cy="376.4" r="1.8" fill="#2e1030"/>
<circle cx="858.24" cy="376.4" r="1.8" fill="#2e1030"/>
<circle cx="872.76" cy="376.4" r="1.8" fill="#2e1030"/>
<circle cx="887.28" cy="371.31" r="1.8" fill="#2e1030"/>
<circle cx="901.8" cy="376.4" r="1.8" fill="#2e1030"/>
<circle cx="916.32" cy="373.85" r="1.8" fill="#2e1030"/>
<circle cx="930.84" cy="373.85" r="1.8" fill="#2e1030"/>
<circle cx="945.36" cy="376.4" r="1.8" fill="#2e1030"/>
<circle cx="959.88" cy="376.4" r="1.8" fill="#2e1030"/>
<circle cx="974.4" cy="368.76" r="1.8" fill="#2e1030"/>
<circle cx="988.92" cy="366.22" r="1.8" fill="#2e1030"/>
<circle cx="1003.44" cy="366.22" r="1.8" fill="#2e1030"/>
<circle cx="1017.96" cy="368.76" r="1.8" fill="#2e1030"/>
<circle cx="1032.48" cy="366.22" r="1.8" fill="#2e1030"/>
<circle cx="1047" cy="368.76" r="1.8" fill="#2e1030"/>
<circle cx="1061.52" cy="361.12" r="1.8" fill="#2e1030"/>
<circle cx="1076.04" cy="356.03" r="1.8" fill="#2e1030"/>
<circle cx="1090.56" cy="343.3" r="1.8" fill="#2e1030"/>
<circle cx="1105.08" cy="333.12" r="1.8" fill="#2e1030"/>
<circle cx="1119.6" cy="353.49" r="1.8" fill="#2e1030"/>
<polyline points="756.6,376.4 771.12,376.4 785.64,376.4 800.16,376.4 814.68,376.4 829.2,376.4 843.72,376.4 858.24,376.4 872.76,376.4 887.28,376.4 901.8,376.4 916.32,376.4 930.84,376.4 945.36,373.85 959.88,376.4 974.4,376.4 988.92,373.85 1003.44,373.85 1017.96,376.4 1032.48,373.85 1047,373.85 1061.52,376.4 1076.04,373.85 1090.56,371.31 1105.08,356.03 1119.6,371.31" fill="none" stroke="#e7298a" stroke-width="1.5" stroke-linejoin="round"/>
<circle cx="756.6" cy="376.4" r="1.8" fill="#e7298a"/>
<circle cx="771.12" cy="376.4" r="1.8" fill="#e7298a"/>
<circle cx="785.64" cy="376.4" r="1.8" fill="#e7298a"/>
<circle cx="800.16" cy="376.4" r="1.8" fill="#e7298a"/>
<circle cx="814.68" cy="376.4" r="1.8" fill="#e7298a"/>
<circle cx="829.2" cy="376.4" r="1.8" fill="#e7298a"/>
<circle cx="843.72" cy="376.4" r="1.8" fill="#e7298a"/>
<circle cx="858.24" cy="376.4" r="1.8" fill="#e7298a"/>
<circle cx="872.76" cy="376.4" r="1.8" fill="#e7298a"/>
<circle cx="887.28" cy="376.4" r="1.8" fill="#e7298a"/>
<circle cx="901.8" cy="376.4" r="1.8" fill="#e7298a"/>
<circle cx="916.32" cy="376.4" r="1.8" fill="#e7298a"/>
<circle cx="930.84" cy="376.4" r="1.8" fill="#e7298a"/>
<circle cx="945.36" cy="373.85" r="1.8" fill="#e7298a"/>
<circle cx="959.88" cy="376.4" r="1.8" fill="#e7298a"/>
<circle cx="974.4" cy="376.4" r="1.8" fill="#e7298a"/>
<circle cx="988.92" cy="373.85" r="1.8" fill="#e7298a"/>
<circle cx="1003.44" cy="373.85" r="1.8" fill="#e7298a"/>
<circle cx="1017.96" cy="376.4" r="1.8" fill="#e7298a"/>
<circle cx="1032.48" cy="373.85" r="1.8" fill="#e7298a"/>
<circle cx="1047" cy="373.85" r="1.8" fill="#e7298a"/>
<circle cx="1061.52" cy="376.4" r="1.8" fill="#e7298a"/>
<circle cx="1076.04" cy="373.85" r="1.8" fill="#e7298a"/>
<circle cx="1090.56" cy="371.31" r="1.8" fill="#e7298a"/>
<circle cx="1105.08" cy="356.03" r="1.8" fill="#e7298a"/>
<circle cx="1119.6" cy="371.31" r="1.8" fill="#e7298a"/>
<polyline points="756.6,376.4 771.12,376.4 785.64,376.4 800.16,376.4 814.68,376.4 829.2,376.4 843.72,376.4 858.24,376.4 872.76,376.4 887.28,376.4 901.8,376.4 916.32,376.4 930.84,376.4 945.36,376.4 959.88,376.4 974.4,376.4 988.92,376.4 1003.44,376.4 1017.96,376.4 1032.48,376.4 1047,376.4 1061.52,376.4 1076.04,376.4 1090.56,376.4 1105.08,376.4 1119.6,376.4" fill="none" stroke="#4fa82a" stroke-width="1.5" stroke-linejoin="round"/>
<circle cx="756.6" cy="376.4" r="1.8" fill="#4fa82a"/>
<circle cx="771.12" cy="376.4" r="1.8" fill="#4fa82a"/>
<circle cx="785.64" cy="376.4" r="1.8" fill="#4fa82a"/>
<circle cx="800.16" cy="376.4" r="1.8" fill="#4fa82a"/>
<circle cx="814.68" cy="376.4" r="1.8" fill="#4fa82a"/>
<circle cx="829.2" cy="376.4" r="1.8" fill="#4fa82a"/>
<circle cx="843.72" cy="376.4" r="1.8" fill="#4fa82a"/>
<circle cx="858.24" cy="376.4" r="1.8" fill="#4fa82a"/>
<circle cx="872.76" cy="376.4" r="1.8" fill="#4fa82a"/>
<circle cx="887.28" cy="376.4" r="1.8" fill="#4fa82a"/>
<circle cx="901.8" cy="376.4" r="1.8" fill="#4fa82a"/>
<circle cx="916.32" cy="376.4" r="1.8" fill="#4fa82a"/>
<circle cx="930.84" cy="376.4" r="1.8" fill="#4fa82a"/>
<circle cx="945.36" cy="376.4" r="1.8" fill="#4fa82a"/>
<circle cx="959.88" cy="376.4" r="1.8" fill="#4fa82a"/>
<circle cx="974.4" cy="376.4" r="1.8" fill="#4fa82a"/>
<circle cx="988.92" cy="376.4" r="1.8" fill="#4fa82a"/>
<circle cx="1003.44" cy="376.4" r="1.8" fill="#4fa82a"/>
<circle cx="1017.96" cy="376.4" r="1.8" fill="#4fa82a"/>
<circle cx="1032.48" cy="376.4" r="1.8" fill="#4fa82a"/>
<circle cx="1047" cy="376.4" r="1.8" fill="#4fa82a"/>
<circle cx="1061.52" cy="376.4" r="1.8" fill="#4fa82a"/>
<circle cx="1076.04" cy="376.4" r="1.8" fill="#4fa82a"/>
<circle cx="1090.56" cy="376.4" r="1.8" fill="#4fa82a"/>
<circle cx="1105.08" cy="376.4" r="1.8" fill="#4fa82a"/>
<circle cx="1119.6" cy="376.4" r="1.8" fill="#4fa82a"/>
<polyline points="756.6,376.4 771.12,376.4 785.64,376.4 800.16,376.4 814.68,376.4 829.2,373.85 843.72,376.4 858.24,376.4 872.76,376.4 887.28,376.4 901.8,373.85 916.32,376.4 930.84,376.4 945.36,371.31 959.88,376.4 974.4,376.4 988.92,373.85 1003.44,363.67 1017.96,371.31 1032.48,368.76 1047,376.4 1061.52,363.67 1076.04,358.58 1090.56,356.03 1105.08,356.03 1119.6,356.03" fill="none" stroke="#e6a117" stroke-width="1.5" stroke-linejoin="round"/>
<circle cx="756.6" cy="376.4" r="1.8" fill="#e6a117"/>
<circle cx="771.12" cy="376.4" r="1.8" fill="#e6a117"/>
<circle cx="785.64" cy="376.4" r="1.8" fill="#e6a117"/>
<circle cx="800.16" cy="376.4" r="1.8" fill="#e6a117"/>
<circle cx="814.68" cy="376.4" r="1.8" fill="#e6a117"/>
<circle cx="829.2" cy="373.85" r="1.8" fill="#e6a117"/>
<circle cx="843.72" cy="376.4" r="1.8" fill="#e6a117"/>
<circle cx="858.24" cy="376.4" r="1.8" fill="#e6a117"/>
<circle cx="872.76" cy="376.4" r="1.8" fill="#e6a117"/>
<circle cx="887.28" cy="376.4" r="1.8" fill="#e6a117"/>
<circle cx="901.8" cy="373.85" r="1.8" fill="#e6a117"/>
<circle cx="916.32" cy="376.4" r="1.8" fill="#e6a117"/>
<circle cx="930.84" cy="376.4" r="1.8" fill="#e6a117"/>
<circle cx="945.36" cy="371.31" r="1.8" fill="#e6a117"/>
<circle cx="959.88" cy="376.4" r="1.8" fill="#e6a117"/>
<circle cx="974.4" cy="376.4" r="1.8" fill="#e6a117"/>
<circle cx="988.92" cy="373.85" r="1.8" fill="#e6a117"/>
<circle cx="1003.44" cy="363.67" r="1.8" fill="#e6a117"/>
<circle cx="1017.96" cy="371.31" r="1.8" fill="#e6a117"/>
<circle cx="1032.48" cy="368.76" r="1.8" fill="#e6a117"/>
<circle cx="1047" cy="376.4" r="1.8" fill="#e6a117"/>
<circle cx="1061.52" cy="363.67" r="1.8" fill="#e6a117"/>
<circle cx="1076.04" cy="358.58" r="1.8" fill="#e6a117"/>
<circle cx="1090.56" cy="356.03" r="1.8" fill="#e6a117"/>
<circle cx="1105.08" cy="356.03" r="1.8" fill="#e6a117"/>
<circle cx="1119.6" cy="356.03" r="1.8" fill="#e6a117"/>
<polyline points="756.6,376.4 771.12,376.4 785.64,376.4 800.16,376.4 814.68,373.85 829.2,376.4 843.72,376.4 858.24,376.4 872.76,376.4 887.28,376.4 901.8,376.4 916.32,376.4 930.84,376.4 945.36,376.4 959.88,376.4 974.4,373.85 988.92,373.85 1003.44,373.85 1017.96,376.4 1032.48,373.85 1047,371.31 1061.52,371.31 1076.04,361.12 1090.56,366.22 1105.08,312.75 1119.6,368.76" fill="none" stroke="#f03c14" stroke-width="1.5" stroke-linejoin="round"/>
<circle cx="756.6" cy="376.4" r="1.8" fill="#f03c14"/>
<circle cx="771.12" cy="376.4" r="1.8" fill="#f03c14"/>
<circle cx="785.64" cy="376.4" r="1.8" fill="#f03c14"/>
<circle cx="800.16" cy="376.4" r="1.8" fill="#f03c14"/>
<circle cx="814.68" cy="373.85" r="1.8" fill="#f03c14"/>
<circle cx="829.2" cy="376.4" r="1.8" fill="#f03c14"/>
<circle cx="843.72" cy="376.4" r="1.8" fill="#f03c14"/>
<circle cx="858.24" cy="376.4" r="1.8" fill="#f03c14"/>
<circle cx="872.76" cy="376.4" r="1.8" fill="#f03c14"/>
<circle cx="887.28" cy="376.4" r="1.8" fill="#f03c14"/>
<circle cx="901.8" cy="376.4" r="1.8" fill="#f03c14"/>
<circle cx="916.32" cy="376.4" r="1.8" fill="#f03c14"/>
<circle cx="930.84" cy="376.4" r="1.8" fill="#f03c14"/>
<circle cx="945.36" cy="376.4" r="1.8" fill="#f03c14"/>
<circle cx="959.88" cy="376.4" r="1.8" fill="#f03c14"/>
<circle cx="974.4" cy="373.85" r="1.8" fill="#f03c14"/>
<circle cx="988.92" cy="373.85" r="1.8" fill="#f03c14"/>
<circle cx="1003.44" cy="373.85" r="1.8" fill="#f03c14"/>
<circle cx="1017.96" cy="376.4" r="1.8" fill="#f03c14"/>
<circle cx="1032.48" cy="373.85" r="1.8" fill="#f03c14"/>
<circle cx="1047" cy="371.31" r="1.8" fill="#f03c14"/>
<circle cx="1061.52" cy="371.31" r="1.8" fill="#f03c14"/>
<circle cx="1076.04" cy="361.12" r="1.8" fill="#f03c14"/>
<circle cx="1090.56" cy="366.22" r="1.8" fill="#f03c14"/>
<circle cx="1105.08" cy="312.75" r="1.8" fill="#f03c14"/>
<circle cx="1119.6" cy="368.76" r="1.8" fill="#f03c14"/>
<polyline points="756.6,376.4 771.12,376.4 785.64,376.4 800.16,376.4 814.68,376.4 829.2,376.4 843.72,376.4 858.24,376.4 872.76,376.4 887.28,376.4 901.8,376.4 916.32,376.4 930.84,376.4 945.36,376.4 959.88,376.4 974.4,376.4 988.92,376.4 1003.44,376.4 1017.96,376.4 1032.48,376.4 1047,376.4 1061.52,376.4 1076.04,376.4 1090.56,363.67 1105.08,180.36 1119.6,353.49" fill="none" stroke="#555555" stroke-width="1.5" stroke-linejoin="round"/>
<circle cx="756.6" cy="376.4" r="1.8" fill="#555555"/>
<circle cx="771.12" cy="376.4" r="1.8" fill="#555555"/>
<circle cx="785.64" cy="376.4" r="1.8" fill="#555555"/>
<circle cx="800.16" cy="376.4" r="1.8" fill="#555555"/>
<circle cx="814.68" cy="376.4" r="1.8" fill="#555555"/>
<circle cx="829.2" cy="376.4" r="1.8" fill="#555555"/>
<circle cx="843.72" cy="376.4" r="1.8" fill="#555555"/>
<circle cx="858.24" cy="376.4" r="1.8" fill="#555555"/>
<circle cx="872.76" cy="376.4" r="1.8" fill="#555555"/>
<circle cx="887.28" cy="376.4" r="1.8" fill="#555555"/>
<circle cx="901.8" cy="376.4" r="1.8" fill="#555555"/>
<circle cx="916.32" cy="376.4" r="1.8" fill="#555555"/>
<circle cx="930.84" cy="376.4" r="1.8" fill="#555555"/>
<circle cx="945.36" cy="376.4" r="1.8" fill="#555555"/>
<circle cx="959.88" cy="376.4" r="1.8" fill="#555555"/>
<circle cx="974.4" cy="376.4" r="1.8" fill="#555555"/>
<circle cx="988.92" cy="376.4" r="1.8" fill="#555555"/>
<circle cx="1003.44" cy="376.4" r="1.8" fill="#555555"/>
<circle cx="1017.96" cy="376.4" r="1.8" fill="#555555"/>
<circle cx="1032.48" cy="376.4" r="1.8" fill="#555555"/>
<circle cx="1047" cy="376.4" r="1.8" fill="#555555"/>
<circle cx="1061.52" cy="376.4" r="1.8" fill="#555555"/>
<circle cx="1076.04" cy="376.4" r="1.8" fill="#555555"/>
<circle cx="1090.56" cy="363.67" r="1.8" fill="#555555"/>
<circle cx="1105.08" cy="180.36" r="1.8" fill="#555555"/>
<circle cx="1119.6" cy="353.49" r="1.8" fill="#555555"/>
<rect x="791" y="179.3" width="136.4" height="135.8" fill="#fff" stroke="#222" stroke-width="1.1"/>
<line x1="796" x2="808.7" y1="192" y2="192" stroke="#1b9e77" stroke-width="1.6"/>
<circle cx="802.3" cy="192" r="2.4" fill="#1b9e77"/>
<text x="816" y="195.3" font-size="8.95" fill="#222">Fabrication of the data</text>
<line x1="796" x2="808.7" y1="208.33" y2="208.33" stroke="#1a1ad6" stroke-width="1.6"/>
<circle cx="802.3" cy="208.33" r="2.4" fill="#1a1ad6"/>
<text x="816" y="211.63" font-size="8.95" fill="#222">Plagiarism</text>
<line x1="796" x2="808.7" y1="224.66" y2="224.66" stroke="#2e1030" stroke-width="1.6"/>
<circle cx="802.3" cy="224.66" r="2.4" fill="#2e1030"/>
<text x="816" y="227.96" font-size="8.95" fill="#222">Duplication</text>
<line x1="796" x2="808.7" y1="240.99" y2="240.99" stroke="#e7298a" stroke-width="1.6"/>
<circle cx="802.3" cy="240.99" r="2.4" fill="#e7298a"/>
<text x="816" y="244.29" font-size="8.95" fill="#222">Ethical violations</text>
<line x1="796" x2="808.7" y1="257.32" y2="257.32" stroke="#4fa82a" stroke-width="1.6"/>
<circle cx="802.3" cy="257.32" r="2.4" fill="#4fa82a"/>
<text x="816" y="260.62" font-size="8.95" fill="#222">Conflict of interest</text>
<line x1="796" x2="808.7" y1="273.65" y2="273.65" stroke="#e6a117" stroke-width="1.6"/>
<circle cx="802.3" cy="273.65" r="2.4" fill="#e6a117"/>
<text x="816" y="276.95" font-size="8.95" fill="#222">Issues about authorship</text>
<line x1="796" x2="808.7" y1="289.98" y2="289.98" stroke="#f03c14" stroke-width="1.6"/>
<circle cx="802.3" cy="289.98" r="2.4" fill="#f03c14"/>
<text x="816" y="293.28" font-size="8.95" fill="#222">Lack of informed consent</text>
<line x1="796" x2="808.7" y1="306.31" y2="306.31" stroke="#555555" stroke-width="1.6"/>
<circle cx="802.3" cy="306.31" r="2.4" fill="#555555"/>
<text x="816" y="309.61" font-size="8.95" fill="#222">Concerns with peer review</text>

<defs>
<linearGradient id="gPur" x1="0" y1="0" x2="0" y2="1"><stop offset="0" stop-color="#8257ad"/><stop offset="1" stop-color="#65428f"/></linearGradient>
<linearGradient id="gBlu" x1="0" y1="0" x2="0" y2="1"><stop offset="0" stop-color="#3d7fd2"/><stop offset="1" stop-color="#2c5ea8"/></linearGradient>
<linearGradient id="gTea" x1="0" y1="0" x2="0" y2="1"><stop offset="0" stop-color="#3bbbe0"/><stop offset="1" stop-color="#2597b8"/></linearGradient>
<linearGradient id="gRed" x1="0" y1="0" x2="0" y2="1"><stop offset="0" stop-color="#d94545"/><stop offset="1" stop-color="#a52525"/></linearGradient>
<linearGradient id="gFace" x1="0" y1="0" x2="0" y2="1"><stop offset="0" stop-color="#e58a88"/><stop offset="1" stop-color="#f8a59f"/></linearGradient>
<radialGradient id="gLens" cx="0.4" cy="0.35" r="0.7"><stop offset="0" stop-color="#f4f8fa"/><stop offset="0.7" stop-color="#d3e0e6"/><stop offset="1" stop-color="#b9c8cf"/></radialGradient>
<filter id="fsh" x="-30%" y="-30%" width="160%" height="160%"><feGaussianBlur in="SourceAlpha" stdDeviation="1.6"/><feOffset dx="1" dy="2.2" result="b"/><feComponentTransfer><feFuncA type="linear" slope="0.35"/></feComponentTransfer><feMerge><feMergeNode/><feMergeNode in="SourceGraphic"/></feMerge></filter>
</defs>

<rect x="14" y="134.3" width="100.4" height="128.4" rx="7" fill="#efefef"/>
<rect x="21.6" y="140.7" width="85.6" height="21.3" rx="3" fill="#3f5666"/>
<rect x="22" y="171.5" width="18" height="2" fill="#c4c4c4"/>
<rect x="68" y="171.5" width="38" height="2" fill="#c4c4c4"/>
<rect x="68" y="177.5" width="26" height="2" fill="#c4c4c4"/>
<rect x="68" y="183.5" width="26" height="2" fill="#c4c4c4"/>
<rect x="70" y="196" width="36" height="2" fill="#c4c4c4"/>
<rect x="70" y="202" width="36" height="2" fill="#c4c4c4"/>
<rect x="22" y="207" width="28" height="2" fill="#c4c4c4"/>
<rect x="22" y="221" width="20" height="2" fill="#c4c4c4"/>
<rect x="22" y="231" width="34" height="2" fill="#c4c4c4"/>
<rect x="22" y="243" width="38" height="2" fill="#c4c4c4"/>
<rect x="22" y="249" width="38" height="2" fill="#c4c4c4"/>
<rect x="90" y="188" width="16" height="2.2" fill="#1f5f5a"/>
<circle cx="101.5" cy="180" r="3.6" fill="#d9706e"/>
<rect x="22" y="225.5" width="24" height="1.8" fill="#c9c9ee"/>
<path d="M51.5,214 L66.2,250.4" stroke="#fff" stroke-width="5.4" stroke-linecap="round"/>
<path d="M51.5,214 L66.2,250.4" stroke="#c84a5a" stroke-width="3.6" stroke-linecap="round"/>
<polygon points="73.0,196.6 54.9,219.9 25.6,215.7 14.6,188.4 32.7,165.1 62.0,169.3" fill="#fff" stroke="#fff" stroke-width="2" stroke-linejoin="round"/>
<polygon points="71.0,196.3 54.1,218.0 26.9,214.2 16.6,188.7 33.5,167.0 60.7,170.8" fill="#df5560" stroke="#c64451" stroke-width="1.4" stroke-linejoin="round"/>
<polygon points="67.6,195.8 52.8,214.8 29.0,211.4 20.0,189.2 34.8,170.2 58.6,173.6" fill="none" stroke="#cf4652" stroke-width="1" stroke-linejoin="round" opacity="0.7"/>
<path d="M30.299999999999997,192.5 L57.3,192.5 M43.8,179.0 L43.8,206.0" stroke="#fff" stroke-width="5" stroke-linecap="round" transform="rotate(19 43.8 192.5)"/>
<path d="M57,229 C58,226.5 61.5,226 63.5,228 C65.5,229.5 66.5,233 67.5,236.5 C68,239 66,240 64,239.5 C62,240.5 58.5,239.5 57,237 C55.5,234.5 55.8,231 57,229 Z" fill="#5257ad"/>
<circle cx="97.5" cy="232.6" r="29.6" fill="#fff"/>
<circle cx="97.5" cy="232.6" r="29" fill="url(#gFace)"/>
<ellipse cx="76.4" cy="237.4" rx="4" ry="2.6" fill="#e07a7a" opacity="0.6"/><ellipse cx="115.3" cy="234.7" rx="4" ry="2.6" fill="#e07a7a" opacity="0.6"/>
<path d="M78.2,229.6 Q82,234.5 85.6,229.2 M104.5,226.6 Q108.6,231.2 112.6,225.6 M89.1,242.8 Q96.3,233 104.1,242.3" stroke="#2a1a1a" stroke-width="1.7" fill="none" stroke-linecap="round"/>
<path d="M20.8,322.5 L86.7,322.5 L96,337.5 L30,337.5 Z" fill="#8b79aa"/>
<path d="M18.8,325.5 L28.6,339.8 L28.6,358.8 L18.8,344.5 Z" fill="#8b79aa"/>
<path d="M18.8,347.5 L28.6,361.8 L28.6,380.6 L18.8,366.3 Z" fill="#8b79aa"/>
<path d="M18.8,369.3 L28.6,383.6 L28.6,403.5 L18.8,389.2 Z" fill="#8b79aa"/>
<rect x="30" y="340.3" width="66.6" height="18.4" rx="1" fill="#8b79aa"/>
<circle cx="72.2" cy="349.5" r="2.1" fill="#fff"/>
<circle cx="80.8" cy="349.5" r="2.1" fill="#fff"/>
<circle cx="89.7" cy="349.5" r="2.1" fill="#fff"/>
<rect x="30" y="362" width="66.6" height="18.5" rx="1" fill="#8b79aa"/>
<circle cx="72.2" cy="371.2" r="2.1" fill="#fff"/>
<circle cx="80.8" cy="371.2" r="2.1" fill="#fff"/>
<circle cx="89.7" cy="371.2" r="2.1" fill="#fff"/>
<rect x="30" y="384.2" width="66.6" height="19.3" rx="1" fill="#8b79aa"/>
<circle cx="72.2" cy="393.9" r="2.1" fill="#fff"/>
<circle cx="80.8" cy="393.9" r="2.1" fill="#fff"/>
<circle cx="89.7" cy="393.9" r="2.1" fill="#fff"/>
<path d="M36.5,342.5 L11,361.5" stroke="#2a2a2a" stroke-width="4.6" stroke-linecap="round"/>
<path d="M36,342.2 L12,360.2" stroke="#777" stroke-width="1.2" stroke-linecap="round"/>
<circle cx="52.4" cy="329.7" r="17.3" fill="url(#gLens)" stroke="#3d3d3d" stroke-width="1.8"/>
<path d="M41,324 Q43,318 49,316" stroke="#fff" stroke-width="2.2" fill="none" stroke-linecap="round" opacity="0.9"/>
<rect x="110.7" y="318.3" width="93.6" height="62.7" rx="3.5" fill="#5a5a5a"/>
<rect x="115.1" y="324" width="85.2" height="51.3" rx="1" fill="#fff"/>
<path d="M112,383.5 L203.8,383.5 Q205.5,383.5 206.5,385 L213,403 Q214,406.9 210,406.9 L106,406.9 Q102,406.9 103,403 L109.5,385 Q110.3,383.5 112,383.5 Z" fill="#6b6b6b"/>
<rect x="139.8" y="394.9" width="35.4" height="6.3" rx="2" fill="#fff"/>
<text x="124.6" y="346.8" font-family="Liberation Serif, serif" font-size="11.2" fill="#333" stroke="#333" stroke-width="0.3" textLength="62" lengthAdjust="spacingAndGlyphs">Retraction</text>
<text x="141.7" y="358.8" font-family="Liberation Serif, serif" font-size="11.2" fill="#333" stroke="#333" stroke-width="0.3" textLength="30.3" lengthAdjust="spacingAndGlyphs">Watch</text>
<circle cx="173.6" cy="343.6" r="5.6" fill="#fff" fill-opacity="0.7" stroke="#222" stroke-width="1.4"/>
<path d="M176.6,348.5 L185.1,364.5" stroke="#222" stroke-width="1.6" stroke-linecap="round"/>
<ellipse cx="173.6" cy="343.8" rx="3.4" ry="1.7" fill="none" stroke="#444" stroke-width="0.8"/><circle cx="173.6" cy="343.8" r="0.9" fill="#333"/>
<path d="M280,442 L366.5,439 L366.5,511 L280,511 Z" fill="#2e5a8a"/>
<ellipse cx="305" cy="509.5" rx="9" ry="2.5" fill="#2e5a8a"/>
<path d="M276.5,432.4 Q291,431 304.9,434.5 L304.9,507.5 Q291,505 276.5,507.2 Z" fill="#f7ebe8" stroke="#e6d2cc" stroke-width="0.6"/>
<path d="M304.9,434.5 Q334,431 363.5,432.4 L363.5,507.2 Q334,505 304.9,507.5 Z" fill="#f7ebe8" stroke="#e6d2cc" stroke-width="0.6"/>
<path d="M358,433 L363.5,432.4 L363.5,507.2 L358,507.5 Z" fill="#ecd5cc"/>
<rect x="310.4" y="435.4" width="49.4" height="65.8" fill="#f1f6fc" stroke="#dbe5ef" stroke-width="0.6"/>
<rect x="315.5" y="444" width="29" height="1.6" fill="#d3dfeb"/>
<rect x="315.5" y="450.5" width="39" height="6" fill="#d3dfeb"/>
<rect x="315.5" y="461.5" width="9" height="1.2" fill="#d3dfeb"/>
<rect x="315.5" y="465.5" width="18" height="6.5" fill="#d3dfeb"/>
<rect x="336.5" y="462" width="18.5" height="13" fill="#d3dfeb"/>
<rect x="315.5" y="474.5" width="18" height="9" fill="#d3dfeb"/>
<rect x="336.5" y="477.5" width="18.5" height="1.3" fill="#d3dfeb"/>
<rect x="315.5" y="486" width="18" height="8.5" fill="#d3dfeb"/>
<rect x="336.5" y="481.5" width="18.5" height="13" fill="#d3dfeb"/>
<rect x="212.2" y="426.7" width="64.3" height="87.7" rx="2.5" fill="#7b8384"/>
<rect x="216.7" y="431.7" width="55.3" height="78.2" fill="#fff"/>
<line x1="224.4" x2="266" y1="447.4" y2="447.4" stroke="#e2e2e2" stroke-width="0.6"/>
<rect x="219.5" y="446.8" width="1.4" height="1.2" fill="#666"/>
<line x1="224.4" x2="266" y1="450.2" y2="450.2" stroke="#e2e2e2" stroke-width="0.6"/>
<rect x="219.5" y="449.6" width="1.4" height="1.2" fill="#666"/>
<line x1="224.4" x2="266" y1="452.9" y2="452.9" stroke="#e2e2e2" stroke-width="0.6"/>
<rect x="219.5" y="452.3" width="1.4" height="1.2" fill="#666"/>
<line x1="224.4" x2="266" y1="455.7" y2="455.7" stroke="#e2e2e2" stroke-width="0.6"/>
<rect x="219.5" y="455.1" width="1.4" height="1.2" fill="#666"/>
<line x1="224.4" x2="266" y1="458.5" y2="458.5" stroke="#e2e2e2" stroke-width="0.6"/>
<rect x="219.5" y="457.9" width="1.4" height="1.2" fill="#666"/>
<line x1="224.4" x2="266" y1="461.2" y2="461.2" stroke="#e2e2e2" stroke-width="0.6"/>
<rect x="219.5" y="460.6" width="1.4" height="1.2" fill="#666"/>
<line x1="224.4" x2="266" y1="464.0" y2="464.0" stroke="#e2e2e2" stroke-width="0.6"/>
<rect x="219.5" y="463.4" width="1.4" height="1.2" fill="#666"/>
<line x1="224.4" x2="266" y1="466.8" y2="466.8" stroke="#e2e2e2" stroke-width="0.6"/>
<rect x="219.5" y="466.2" width="1.4" height="1.2" fill="#666"/>
<line x1="224.4" x2="266" y1="469.6" y2="469.6" stroke="#e2e2e2" stroke-width="0.6"/>
<rect x="219.5" y="469.0" width="1.4" height="1.2" fill="#666"/>
<line x1="224.4" x2="266" y1="472.3" y2="472.3" stroke="#e2e2e2" stroke-width="0.6"/>
<rect x="219.5" y="471.7" width="1.4" height="1.2" fill="#666"/>
<line x1="224.4" x2="266" y1="475.1" y2="475.1" stroke="#e2e2e2" stroke-width="0.6"/>
<rect x="219.5" y="474.5" width="1.4" height="1.2" fill="#666"/>
<line x1="224.4" x2="266" y1="477.9" y2="477.9" stroke="#e2e2e2" stroke-width="0.6"/>
<rect x="219.5" y="477.3" width="1.4" height="1.2" fill="#666"/>
<line x1="224.4" x2="266" y1="480.6" y2="480.6" stroke="#e2e2e2" stroke-width="0.6"/>
<rect x="219.5" y="480.0" width="1.4" height="1.2" fill="#666"/>
<line x1="224.4" x2="266" y1="483.4" y2="483.4" stroke="#e2e2e2" stroke-width="0.6"/>
<rect x="219.5" y="482.8" width="1.4" height="1.2" fill="#666"/>
<line x1="224.4" x2="266" y1="486.2" y2="486.2" stroke="#e2e2e2" stroke-width="0.6"/>
<rect x="219.5" y="485.6" width="1.4" height="1.2" fill="#666"/>
<line x1="224.4" x2="266" y1="488.9" y2="488.9" stroke="#e2e2e2" stroke-width="0.6"/>
<rect x="219.5" y="488.3" width="1.4" height="1.2" fill="#666"/>
<line x1="224.4" x2="266" y1="491.7" y2="491.7" stroke="#e2e2e2" stroke-width="0.6"/>
<rect x="219.5" y="491.1" width="1.4" height="1.2" fill="#666"/>
<line x1="224.4" x2="266" y1="494.5" y2="494.5" stroke="#e2e2e2" stroke-width="0.6"/>
<rect x="219.5" y="493.9" width="1.4" height="1.2" fill="#666"/>
<line x1="224.4" x2="266" y1="497.3" y2="497.3" stroke="#e2e2e2" stroke-width="0.6"/>
<rect x="219.5" y="496.7" width="1.4" height="1.2" fill="#666"/>
<line x1="224.4" x2="266" y1="500.0" y2="500.0" stroke="#e2e2e2" stroke-width="0.6"/>
<rect x="219.5" y="499.4" width="1.4" height="1.2" fill="#666"/>
<line x1="224.4" x2="266" y1="502.8" y2="502.8" stroke="#e2e2e2" stroke-width="0.6"/>
<rect x="219.5" y="502.2" width="1.4" height="1.2" fill="#666"/>
<circle cx="243.6" cy="421.8" r="4.9" fill="#b5b5b5"/><circle cx="243.6" cy="421.4" r="1.8" fill="#fff"/>
<path d="M227,425 L259.5,425 L260.6,434.7 L225.9,434.7 Z" fill="#b9b9b9"/>
<path d="M247,425 L253,425 L249,434.7 L243,434.7 Z" fill="#d0d0d0"/>
<path d="M231.5,458.3 L252,497.3" stroke="#e7b66c" stroke-width="3" stroke-linecap="round"/>
<path d="M231.2,458.5 L236,467.5" stroke="#e38a3c" stroke-width="3" stroke-linecap="round"/>
<g transform="translate(31.3 571.4) scale(1.0566037735849056)"><circle r="26.5" fill="url(#gPur)" filter="url(#fsh)"/><path d="M-13.3,-17.2 C-12,-14 -9.5,-12.5 -6,-13 Q0.5,-14.5 7,-13 C10.5,-12.5 13.5,-14 15.1,-17.2 C17.5,-13 17.5,-8 16.3,-5.5 C17.5,0 17.5,6 15,11 C11.5,17 5,18.8 0.5,18.8 C-4,18.8 -10.5,17 -14,11 C-16.5,6 -16.5,0 -15.3,-5.5 C-16.5,-8 -16,-13 -13.3,-17.2 Z" fill="#ebe4f4"/><circle cx="-6.5" cy="-0.2" r="2.5" fill="#6f4a9f"/><circle cx="7.6" cy="-0.2" r="2.5" fill="#6f4a9f"/><path d="M-8.6,-4.6 Q-5.5,-7.2 -2.2,-4.4 M3,-4.4 Q6.5,-7.2 10,-5.2" stroke="#6f4a9f" stroke-width="1.9" fill="none" stroke-linecap="round"/><path d="M-7.7,8.6 Q0.5,16 8.7,8.6" stroke="#6f4a9f" stroke-width="2.3" fill="none" stroke-linecap="round"/></g>
<g transform="translate(90.6 571.4) scale(1.0566037735849056)"><circle r="26.5" fill="url(#gBlu)" filter="url(#fsh)"/><path d="M-15.3,-16.5 L-15.3,15.4 L16.8,15.4" stroke="#d4e2f6" stroke-width="2.4" fill="none"/><polyline points="-8.6,8.2 -3.1,-8 7.6,-0.1 12.3,-14.2" stroke="#d4e2f6" stroke-width="1.6" fill="none"/><g fill="#d4e2f6"><circle cx="-8.6" cy="8.2" r="3"/><circle cx="-3.1" cy="-8" r="3"/><circle cx="7.6" cy="-0.1" r="3"/><circle cx="12.3" cy="-14.2" r="3"/></g></g>
<g transform="translate(149.0 571.4) scale(1.0566037735849056)"><circle r="26.5" fill="url(#gTea)" filter="url(#fsh)"/><path d="M-9,-7 C-9,-13 -5,-15.9 -0.5,-15.9 C4.5,-15.9 7.8,-12.5 7.8,-8 C7.8,-4 5,-2 2.5,-0.2 C0,1.5 -0.6,4 -0.6,8.1" stroke="#dff0f8" stroke-width="5" fill="none"/><circle cx="-0.6" cy="14.7" r="3.5" fill="#dff0f8"/></g>
<rect x="31.8" y="608.1" width="123.9" height="81.7" rx="4" fill="#555"/>
<rect x="38.2" y="615.1" width="112" height="68.3" rx="2" fill="#7590bd"/>
<path d="M33.5,694 L154,694 Q156,694 157,696 L166.5,720 Q167.5,725.1 162,725.1 L26,725.1 Q20.5,725.1 21.5,720 L31,696 Q32,694 33.5,694 Z" fill="#6f6f6f"/>
<rect x="70.7" y="709.1" width="46.2" height="7.9" rx="2.5" fill="#fff"/>
<path d="M49.4,663.0 L47.8,664.6 L47.8,667.9 L52.8,667.9 L54.4,666.3 L49.4,666.3 Z" fill="#3c4f70"/>
<rect x="49.4" y="663.0" width="5.0" height="3.3" fill="#8fb2ea"/>
<path d="M58.9,658.8 L57.3,660.4 L57.3,667.9 L62.3,667.9 L63.9,666.3 L58.9,666.3 Z" fill="#3c4f70"/>
<rect x="58.9" y="658.8" width="5.0" height="7.5" fill="#8fb2ea"/>
<path d="M68.4,654.6 L66.8,656.2 L66.8,667.9 L71.8,667.9 L73.4,666.3 L68.4,666.3 Z" fill="#3c4f70"/>
<rect x="68.4" y="654.6" width="5.0" height="11.7" fill="#8fb2ea"/>
<path d="M78.0,650.4 L76.4,652.0 L76.4,667.9 L81.4,667.9 L83.0,666.3 L78.0,666.3 Z" fill="#3c4f70"/>
<rect x="78.0" y="650.4" width="5.0" height="15.9" fill="#8fb2ea"/>
<path d="M87.5,647.0 L85.9,648.6 L85.9,667.9 L90.9,667.9 L92.5,666.3 L87.5,666.3 Z" fill="#3c4f70"/>
<rect x="87.5" y="647.0" width="5.0" height="19.3" fill="#8fb2ea"/>
<path d="M97.0,643.3 L95.4,644.9 L95.4,667.9 L100.4,667.9 L102.0,666.3 L97.0,666.3 Z" fill="#3c4f70"/>
<rect x="97.0" y="643.3" width="5.0" height="23.0" fill="#8fb2ea"/>
<path d="M106.5,638.6 L104.9,640.2 L104.9,667.9 L109.9,667.9 L111.5,666.3 L106.5,666.3 Z" fill="#3c4f70"/>
<rect x="106.5" y="638.6" width="5.0" height="27.7" fill="#8fb2ea"/>
<path d="M116.0,634.4 L114.4,636.0 L114.4,667.9 L119.4,667.9 L121.0,666.3 L116.0,666.3 Z" fill="#3c4f70"/>
<rect x="116.0" y="634.4" width="5.0" height="31.9" fill="#8fb2ea"/>
<path d="M125.6,630.7 L124.0,632.3 L124.0,667.9 L129.0,667.9 L130.6,666.3 L125.6,666.3 Z" fill="#3c4f70"/>
<rect x="125.6" y="630.7" width="5.0" height="35.6" fill="#8fb2ea"/>
<path d="M135.1,626.5 L133.5,628.1 L133.5,667.9 L138.5,667.9 L140.1,666.3 L135.1,666.3 Z" fill="#3c4f70"/>
<rect x="135.1" y="626.5" width="5.0" height="39.8" fill="#8fb2ea"/>
<g transform="translate(441.0 454.2) scale(1.0)"><circle r="26.5" fill="url(#gPur)" filter="url(#fsh)"/><path d="M-13.3,-17.2 C-12,-14 -9.5,-12.5 -6,-13 Q0.5,-14.5 7,-13 C10.5,-12.5 13.5,-14 15.1,-17.2 C17.5,-13 17.5,-8 16.3,-5.5 C17.5,0 17.5,6 15,11 C11.5,17 5,18.8 0.5,18.8 C-4,18.8 -10.5,17 -14,11 C-16.5,6 -16.5,0 -15.3,-5.5 C-16.5,-8 -16,-13 -13.3,-17.2 Z" fill="#ebe4f4"/><circle cx="-6.5" cy="-0.2" r="2.5" fill="#6f4a9f"/><circle cx="7.6" cy="-0.2" r="2.5" fill="#6f4a9f"/><path d="M-8.6,-4.6 Q-5.5,-7.2 -2.2,-4.4 M3,-4.4 Q6.5,-7.2 10,-5.2" stroke="#6f4a9f" stroke-width="1.9" fill="none" stroke-linecap="round"/><path d="M-7.7,8.6 Q0.5,16 8.7,8.6" stroke="#6f4a9f" stroke-width="2.3" fill="none" stroke-linecap="round"/></g>
<g transform="translate(505.5 454.2) scale(1.0)"><circle r="26.5" fill="url(#gBlu)" filter="url(#fsh)"/><path d="M-15.3,-16.5 L-15.3,15.4 L16.8,15.4" stroke="#d4e2f6" stroke-width="2.4" fill="none"/><polyline points="-8.6,8.2 -3.1,-8 7.6,-0.1 12.3,-14.2" stroke="#d4e2f6" stroke-width="1.6" fill="none"/><g fill="#d4e2f6"><circle cx="-8.6" cy="8.2" r="3"/><circle cx="-3.1" cy="-8" r="3"/><circle cx="7.6" cy="-0.1" r="3"/><circle cx="12.3" cy="-14.2" r="3"/></g></g>
<g transform="translate(569.4 454.2) scale(1.0)"><circle r="25.4" fill="url(#gTea)" filter="url(#fsh)"/><path d="M-9,-7 C-9,-13 -5,-15.9 -0.5,-15.9 C4.5,-15.9 7.8,-12.5 7.8,-8 C7.8,-4 5,-2 2.5,-0.2 C0,1.5 -0.6,4 -0.6,8.1" stroke="#dff0f8" stroke-width="5" fill="none"/><circle cx="-0.6" cy="14.7" r="3.5" fill="#dff0f8"/></g>
<rect x="705.5" y="432" width="64" height="54.5" rx="3.5" fill="#dcdcd2" opacity="0.6"/>
<path d="M704.3,445.4 L768.5,445.4 L768.5,478 L761,485.3 L707.5,485.3 Q704.3,485.3 704.3,482 Z" fill="#f6f5ef"/>
<path d="M761,485.3 L768.5,478 Q763,478.5 761,485.3 Z" fill="#e2e0d6"/>
<path d="M707.8,430.4 L764.5,430.4 Q768,430.4 768,433.9 L768,445.4 L704.3,445.4 L704.3,433.9 Q704.3,430.4 707.8,430.4 Z" fill="#5e90a8"/>
<circle cx="715" cy="434.6" r="1.5" fill="#fff"/>
<path d="M715,427 L715,434" stroke="#3a4a55" stroke-width="1.1"/>
<circle cx="756.2" cy="434.6" r="1.5" fill="#fff"/>
<path d="M756.2,427 L756.2,434" stroke="#3a4a55" stroke-width="1.1"/>
<path d="M766.5,433.6 L801.5,433.6 C801.5,446 791,452 790.6,459 C791,466 801.5,472 801.5,483.4 L766.5,483.4 C766.5,472 777,466 777.4,459 C777,452 766.5,446 766.5,433.6 Z" fill="#2e6581"/>
<path d="M769.4,435.8 L798.6,435.8 C798.6,446.6 788,452 787.6,459 C788,466 798.6,471.6 798.6,481.2 L769.4,481.2 C769.4,471.6 780,466 780.4,459 C780,452 769.4,446.6 769.4,435.8 Z" fill="#fbfcfd"/>
<path d="M772.8,442.2 L795.4,442.2 C795,448 786.6,452.5 786,458 L782,458 C781.4,452.5 773.2,448 772.8,442.2 Z" fill="#2596d0"/>
<path d="M783,459 L785,459 L785,465 C787,470 794.5,473 794.5,478.5 Q794.5,480.3 792.5,480.3 L775.5,480.3 Q773.5,480.3 773.5,478.5 C773.5,473 781,470 783,465 Z" fill="#2596d0"/>
<rect x="762.5" y="429.2" width="42.3" height="4.8" rx="2.4" fill="#2e6581"/>
<rect x="762.5" y="483.2" width="42.3" height="4.8" rx="2.4" fill="#2e6581"/>
<path d="M955.3,481.5 L953.1,483.7 L953.1,488.2 L960.5,488.2 L962.7,486.0 L955.3,486.0 Z" fill="#7a4444"/>
<rect x="955.3" y="481.5" width="7.4" height="4.5" fill="#f09a98"/>
<path d="M966.2,476.9 L964.0,479.1 L964.0,488.2 L971.4,488.2 L973.6,486.0 L966.2,486.0 Z" fill="#7a4444"/>
<rect x="966.2" y="476.9" width="7.4" height="9.1" fill="#f09a98"/>
<path d="M977.6,471.7 L975.4,473.9 L975.4,488.2 L982.8,488.2 L985.0,486.0 L977.6,486.0 Z" fill="#7a4444"/>
<rect x="977.6" y="471.7" width="7.4" height="14.3" fill="#f09a98"/>
<path d="M989.0,467.2 L986.8,469.4 L986.8,488.2 L994.2,488.2 L996.4,486.0 L989.0,486.0 Z" fill="#7a4444"/>
<rect x="989.0" y="467.2" width="7.4" height="18.8" fill="#f09a98"/>
<path d="M1000.5,464.9 L998.3,467.1 L998.3,488.2 L1005.7,488.2 L1007.9,486.0 L1000.5,486.0 Z" fill="#7a4444"/>
<rect x="1000.5" y="464.9" width="7.4" height="21.1" fill="#f09a98"/>
<path d="M1012.0,460.9 L1009.8,463.1 L1009.8,488.2 L1017.2,488.2 L1019.4,486.0 L1012.0,486.0 Z" fill="#7a4444"/>
<rect x="1012.0" y="460.9" width="7.4" height="25.1" fill="#f09a98"/>
<path d="M1023.3,456.3 L1021.1,458.5 L1021.1,488.2 L1028.5,488.2 L1030.7,486.0 L1023.3,486.0 Z" fill="#7a4444"/>
<rect x="1023.3" y="456.3" width="7.4" height="29.7" fill="#f09a98"/>
<path d="M1034.8,448.3 L1032.6,450.5 L1032.6,488.2 L1040.0,488.2 L1042.2,486.0 L1034.8,486.0 Z" fill="#7a4444"/>
<rect x="1034.8" y="448.3" width="7.4" height="37.7" fill="#f09a98"/>
<path d="M1045.6,443.7 L1043.4,445.9 L1043.4,488.2 L1050.8,488.2 L1053.0,486.0 L1045.6,486.0 Z" fill="#7a4444"/>
<rect x="1045.6" y="443.7" width="7.4" height="42.3" fill="#f09a98"/>
<path d="M1057.0,438.9 L1054.8,441.1 L1054.8,488.2 L1062.2,488.2 L1064.4,486.0 L1057.0,486.0 Z" fill="#7a4444"/>
<rect x="1057.0" y="438.9" width="7.4" height="47.1" fill="#f09a98"/>
<path d="M957,456.3 C982,462 1001,452 1016.5,438.6 L1008.5,428.3 L1044,428.8 L1037,464.9 L1029.6,455.2 C1009,468 984,471 957,456.3 Z" fill="#7a5ea0"/>
<rect x="409.7" y="657.2" width="40.4" height="61.1" fill="#f3f7fb" stroke="#e3eaf1" stroke-width="0.6"/>
<rect x="414" y="661" width="6" height="1" fill="#d7e1eb"/>
<rect x="414" y="664.5" width="26" height="1.3" fill="#d7e1eb"/>
<rect x="414" y="671" width="26" height="5.5" fill="#d7e1eb"/>
<rect x="414" y="681" width="7" height="1" fill="#d7e1eb"/>
<rect x="414" y="684.5" width="26" height="5.5" fill="#d7e1eb"/>
<rect x="414" y="693" width="26" height="7" fill="#d7e1eb"/>
<rect x="414" y="704" width="26" height="7" fill="#d7e1eb"/>
<rect x="429.9" y="646.2" width="46.6" height="70.3" fill="#f6f9fc" stroke="#e3eaf1" stroke-width="0.6"/>
<rect x="439" y="650" width="6" height="1" fill="#d7e1eb"/>
<rect x="434.5" y="654.5" width="28" height="1.4" fill="#d7e1eb"/>
<rect x="434.5" y="658" width="32" height="1" fill="#d7e1eb"/>
<rect x="434.5" y="662" width="38" height="6.5" fill="#d7e1eb"/>
<rect x="434.5" y="674.5" width="8" height="1" fill="#d7e1eb"/>
<rect x="434.5" y="678.5" width="16" height="6" fill="#d7e1eb"/>
<rect x="434.5" y="687" width="16" height="7" fill="#d7e1eb"/>
<rect x="434.5" y="698" width="16" height="7" fill="#d7e1eb"/>
<rect x="434.5" y="711" width="38" height="0.8" fill="#d7e1eb"/>
<path d="M486.2,708.2 L484.2,710.2 L484.2,715.9 L491.2,715.9 L493.2,713.9 L486.2,713.9 Z" fill="#7a4444"/>
<rect x="486.2" y="708.2" width="7.0" height="5.7" fill="#f19a98"/>
<path d="M497.5,703.0 L495.5,705.0 L495.5,715.9 L502.5,715.9 L504.5,713.9 L497.5,713.9 Z" fill="#7a4444"/>
<rect x="497.5" y="703.0" width="7.0" height="10.9" fill="#f19a98"/>
<path d="M508.9,698.0 L506.9,700.0 L506.9,715.9 L513.9,715.9 L515.9,713.9 L508.9,713.9 Z" fill="#7a4444"/>
<rect x="508.9" y="698.0" width="7.0" height="15.9" fill="#f19a98"/>
<path d="M520.2,693.1 L518.2,695.1 L518.2,715.9 L525.2,715.9 L527.2,713.9 L520.2,713.9 Z" fill="#7a4444"/>
<rect x="520.2" y="693.1" width="7.0" height="20.8" fill="#f19a98"/>
<path d="M531.5,688.9 L529.5,690.9 L529.5,715.9 L536.5,715.9 L538.5,713.9 L531.5,713.9 Z" fill="#7a4444"/>
<rect x="531.5" y="688.9" width="7.0" height="25.0" fill="#f19a98"/>
<path d="M542.9,685.4 L540.9,687.4 L540.9,715.9 L547.9,715.9 L549.9,713.9 L542.9,713.9 Z" fill="#7a4444"/>
<rect x="542.9" y="685.4" width="7.0" height="28.5" fill="#f19a98"/>
<path d="M554.2,680.5 L552.2,682.5 L552.2,715.9 L559.2,715.9 L561.2,713.9 L554.2,713.9 Z" fill="#7a4444"/>
<rect x="554.2" y="680.5" width="7.0" height="33.4" fill="#f19a98"/>
<path d="M565.5,676.9 L563.5,678.9 L563.5,715.9 L570.5,715.9 L572.5,713.9 L565.5,713.9 Z" fill="#7a4444"/>
<rect x="565.5" y="676.9" width="7.0" height="37.0" fill="#f19a98"/>
<path d="M576.8,669.9 L574.8,671.9 L574.8,715.9 L581.8,715.9 L583.8,713.9 L576.8,713.9 Z" fill="#7a4444"/>
<rect x="576.8" y="669.9" width="7.0" height="44.0" fill="#f19a98"/>
<path d="M588.2,665.2 L586.2,667.2 L586.2,715.9 L593.2,715.9 L595.2,713.9 L588.2,713.9 Z" fill="#7a4444"/>
<rect x="588.2" y="665.2" width="7.0" height="48.7" fill="#f19a98"/>
<path d="M495,679 C510,680.5 535,675 552.2,660.2 L544.6,649.7 L580.8,650.9 L573.3,686.1 L564.5,676.1 C548,686 525,690 505.5,686.5 C500,685 497,682 495,679 Z" fill="#7a5ea0"/>
<circle cx="473" cy="686.1" r="26.4" fill="url(#gRed)" filter="url(#fsh)"/>
<path d="M459.5,672.6 L486.5,699.6 M486.5,672.6 L459.5,699.6" stroke="#f6d6d4" stroke-width="5"/>
<rect x="746.3" y="730.8" width="227.1" height="22.6" fill="#1f53a2"/>
<rect x="746.3" y="753.4" width="227.1" height="17.2" fill="#a62d3e"/>
<text x="762.8" y="749.6" font-size="18.8" fill="#fff" stroke="#1f53a2" stroke-width="0.6" textLength="192.7" lengthAdjust="spacingAndGlyphs">Arthritis Care &amp; Research</text>
<text x="762.4" y="760.7" font-size="4.1" font-weight="700" fill="#f4e2e2" textLength="68" lengthAdjust="spacingAndGlyphs">AN OFFICIAL JOURNAL OF THE</text>
<text x="762.4" y="765.7" font-size="4.1" font-weight="700" fill="#f4e2e2" textLength="91.5" lengthAdjust="spacingAndGlyphs">AMERICAN COLLEGE OF RHEUMATOLOGY</text>
<text x="986.4" y="742" font-family="Liberation Serif, serif" font-size="17.7" fill="#2e2e2e" textLength="140.3" lengthAdjust="spacingAndGlyphs">A<tspan font-size="13.6">MERICAN</tspan> C<tspan font-size="13.6">OLLEGE</tspan></text>
<text x="987.1" y="757.6" font-size="12" font-family="Liberation Serif, serif" font-style="italic" fill="#2e2e2e" textLength="7" lengthAdjust="spacingAndGlyphs">of</text>
<text x="996.4" y="757.6" font-family="Liberation Serif, serif" font-size="18.8" fill="#2e2e2e" textLength="130.3" lengthAdjust="spacingAndGlyphs">R<tspan font-size="15.8">HEUMATOLOGY</tspan></text>
<text x="988.5" y="768" font-family="Liberation Serif, serif" font-style="italic" font-size="8.6" fill="#333" textLength="137.5" lengthAdjust="spacingAndGlyphs">Empowering Rheumatology Professionals</text>
<rect x="663.4" y="146.5" width="80.2" height="20.9" fill="#fafbfc" fill-opacity="0.92" stroke="#cfcfcf" stroke-width="0.7"/>
<line x1="689.8" x2="689.8" y1="146.5" y2="167.4" stroke="#d4d4d4" stroke-width="0.7"/>
<line x1="716.6" x2="716.6" y1="146.5" y2="167.4" stroke="#d4d4d4" stroke-width="0.7"/>
<path d="M670.5,164.2 L684.5,164.2" stroke="#f5b942" stroke-width="1.6" opacity="0.8"/>
<path d="M671,162.6 L681.5,152.5" stroke="#3b9fe0" stroke-width="2.4" stroke-linecap="round"/>
<circle cx="682.7" cy="151.2" r="1.3" fill="#3b9fe0"/>
<path d="M696,151.3 L711.5,151.3 L711.5,162.5 L702,162.5 L699.4,165.6 L699.4,162.5 L696,162.5 Z" fill="#fff" stroke="#3b9fe0" stroke-width="1" stroke-linejoin="round"/>
<line x1="698.2" x2="709.2" y1="154.5" y2="154.5" stroke="#f5a623" stroke-width="0.9"/>
<line x1="698.2" x2="709.2" y1="156.7" y2="156.7" stroke="#f5a623" stroke-width="0.9"/>
<line x1="698.2" x2="705.2" y1="158.9" y2="158.9" stroke="#f5a623" stroke-width="0.9"/>
<path d="M732.2,152.3 A6.2,6.2 0 1 0 734.4,160.6" fill="none" stroke="#34a853" stroke-width="2.2"/>
<path d="M732.2,152.3 A6.2,6.2 0 0 0 722.8,153.8" fill="none" stroke="#ea4335" stroke-width="2.2"/>
<path d="M722.8,153.8 A6.2,6.2 0 0 0 722.2,159.3" fill="none" stroke="#fbbc05" stroke-width="2.2"/>
<rect x="729" y="156.4" width="7.6" height="1.8" fill="#4285f4"/>
<circle cx="736.2" cy="160.4" r="2.2" fill="none" stroke="#1a73e8" stroke-width="0.8"/><path d="M737.8,162 L739.6,163.8" stroke="#1a73e8" stroke-width="0.8"/>
</svg>
<div id="t0" class="t" style="left:160.4px;top:5.40px;font-size:35.2px;font-weight:700;color:#fff;transform:scaleX(0.9987);">Retractions in rheumatology: trends, causes, and</div>
<div id="t1" class="t" style="left:285.6px;top:43.90px;font-size:35.2px;font-weight:700;color:#fff;transform:scaleX(1.0105);">implications for research integrity</div>
<div id="t2" class="t" style="left:122.8px;top:93.99px;font-size:23.4px;font-weight:700;color:#fff;transform:scaleX(0.9969);">Background</div>
<div id="t3" class="t" style="left:715.8px;top:93.79px;font-size:23.4px;font-weight:700;color:#fff;transform:scaleX(1.0377);">Results</div>
<div id="t4" class="t" style="left:138.4px;top:276.86px;font-size:23.2px;font-weight:700;color:#fff;transform:scaleX(1.0541);">Methods</div>
<div id="t5" class="t" style="left:694.2px;top:605.73px;font-size:23.0px;font-weight:700;color:#fff;transform:scaleX(1.0448);">Conclusion</div>
<div id="t6" class="t" style="left:144.0px;top:154.34px;font-size:17.2px;font-weight:400;color:#1c1c1c;transform:scaleX(1.1057);"><span style="font-weight:700;text-decoration:underline;text-decoration-thickness:1.5px;text-underline-offset:2px">Aim</span>: To describe the</div>
<div id="t7" class="t" style="left:145.0px;top:175.51px;font-size:17.2px;font-weight:400;color:#1c1c1c;transform:scaleX(1.1080);">trends and main reasons</div>
<div id="t8" class="t" style="left:145.0px;top:196.68px;font-size:17.2px;font-weight:400;color:#1c1c1c;transform:scaleX(1.1278);">for study retraction in</div>
<div id="t9" class="t" style="left:144.0px;top:217.85px;font-size:17.2px;font-weight:400;color:#1c1c1c;transform:scaleX(1.1389);">rheumatology literature</div>
<div id="t10" class="t" style="left:227.8px;top:329.63px;font-size:15.2px;font-weight:400;color:#1c1c1c;transform:scaleX(1.1216);">Reviewed the</div>
<div id="t11" class="t" style="left:227.8px;top:348.98px;font-size:15.2px;font-weight:400;color:#1c1c1c;transform:scaleX(1.1631);">Retraction Watch</div>
<div id="t12" class="t" style="left:227.8px;top:368.33px;font-size:15.2px;font-weight:400;color:#1c1c1c;transform:scaleX(1.1686);">database</div>
<div id="t13" class="t" style="left:14.4px;top:425.88px;font-size:14.2px;font-weight:400;color:#1c1c1c;transform:scaleX(1.1019);">Recorded the main study</div>
<div id="t14" class="t" style="left:14.4px;top:443.23px;font-size:14.2px;font-weight:400;color:#1c1c1c;transform:scaleX(1.1529);">characteristics, authors’</div>
<div id="t15" class="t" style="left:14.4px;top:460.58px;font-size:14.2px;font-weight:400;color:#1c1c1c;transform:scaleX(1.1259);">countries, reasons for</div>
<div id="t16" class="t" style="left:14.4px;top:477.93px;font-size:14.2px;font-weight:400;color:#1c1c1c;transform:scaleX(1.1356);">retraction, and time from</div>
<div id="t17" class="t" style="left:14.4px;top:495.28px;font-size:14.2px;font-weight:400;color:#1c1c1c;transform:scaleX(1.1446);">publication to retraction.</div>
<div id="t18" class="t" style="left:196.6px;top:559.38px;font-size:14.2px;font-weight:400;color:#1c1c1c;transform:scaleX(1.1106);">Reasons for retraction</div>
<div id="t19" class="t" style="left:212.8px;top:576.80px;font-size:14.2px;font-weight:400;color:#1c1c1c;transform:scaleX(1.1038);">were classified as</div>
<div id="t20" class="t" style="left:195.6px;top:594.22px;font-size:14.2px;font-weight:400;color:#1c1c1c;transform:scaleX(1.1745);">scientific misconduct,</div>
<div id="t21" class="t" style="left:182.4px;top:611.64px;font-size:14.2px;font-weight:400;color:#1c1c1c;transform:scaleX(1.1116);">data/figure errors, or other</div>
<div id="t22" class="t" style="left:188.2px;top:629.06px;font-size:14.2px;font-weight:400;color:#1c1c1c;transform:scaleX(1.1221);">reasons, and retractions</div>
<div id="t23" class="t" style="left:187.8px;top:646.48px;font-size:14.2px;font-weight:400;color:#1c1c1c;transform:scaleX(1.1148);">were compared between</div>
<div id="t24" class="t" style="left:191.2px;top:663.90px;font-size:14.2px;font-weight:400;color:#1c1c1c;transform:scaleX(1.1400);">rheumatology literature</div>
<div id="t25" class="t" style="left:210.6px;top:681.32px;font-size:14.2px;font-weight:400;color:#1c1c1c;transform:scaleX(1.1298);">and other medical</div>
<div id="t26" class="t" style="left:232.2px;top:698.74px;font-size:14.2px;font-weight:400;color:#1c1c1c;transform:scaleX(1.1572);">specialities.</div>
<div id="t27" class="t" style="left:427.0px;top:493.95px;font-size:14.0px;font-weight:400;color:#1c1c1c;transform:scaleX(1.1659);">Scientific misconduct</div>
<div id="t28" class="t" style="left:421.8px;top:511.17px;font-size:14.0px;font-weight:400;color:#1c1c1c;transform:scaleX(1.1235);">accounted for <b>75.3%</b> of</div>
<div id="t29" class="t" style="left:421.4px;top:528.39px;font-size:14.0px;font-weight:400;color:#1c1c1c;transform:scaleX(1.1482);">retractions, followed by</div>
<div id="t30" class="t" style="left:421.6px;top:545.61px;font-size:14.0px;font-weight:400;color:#1c1c1c;transform:scaleX(1.1011);">data errors (<b>14.9%</b>) and</div>
<div id="t31" class="t" style="left:428.4px;top:562.83px;font-size:14.0px;font-weight:400;color:#1c1c1c;transform:scaleX(1.1127);">other reasons (<b>7.6%</b>).</div>
<div id="t32" class="t" style="left:681.4px;top:494.95px;font-size:14.0px;font-weight:400;color:#1c1c1c;transform:scaleX(1.1163);">The median time from</div>
<div id="t33" class="t" style="left:656.6px;top:512.42px;font-size:14.0px;font-weight:400;color:#1c1c1c;transform:scaleX(1.1525);">publication to retraction was</div>
<div id="t34" class="t" style="left:657.6px;top:529.89px;font-size:14.0px;font-weight:400;color:#1c1c1c;transform:scaleX(1.1161);"><b>18 months</b>, with one-third of</div>
<div id="t35" class="t" style="left:652.2px;top:547.36px;font-size:14.0px;font-weight:400;color:#1c1c1c;transform:scaleX(1.1154);">papers requiring more than 36</div>
<div id="t36" class="t" style="left:674.8px;top:564.83px;font-size:14.0px;font-weight:400;color:#1c1c1c;transform:scaleX(1.1407);">months to be retracted.</div>
<div id="t37" class="t" style="left:921.2px;top:494.95px;font-size:14.0px;font-weight:400;color:#1c1c1c;transform:scaleX(1.1129);">The number of retractions</div>
<div id="t38" class="t" style="left:911.6px;top:512.42px;font-size:14.0px;font-weight:400;color:#1c1c1c;transform:scaleX(1.1273);">steadily increased over time</div>
<div id="t39" class="t" style="left:912.2px;top:529.89px;font-size:14.0px;font-weight:400;color:#1c1c1c;transform:scaleX(1.0961);">from <b>18</b> in 2000-2009, <b>117</b> in</div>
<div id="t40" class="t" style="left:910.6px;top:547.36px;font-size:14.0px;font-weight:400;color:#1c1c1c;transform:scaleX(1.0934);">2010-2019, and <b>207</b> in 2020-</div>
<div id="t41" class="t" style="left:951.6px;top:564.83px;font-size:14.0px;font-weight:400;color:#1c1c1c;transform:scaleX(1.0676);">2023 (P &lt; 0.001).</div>
<div id="t42" class="t" style="left:400.2px;top:135.00px;font-size:11.1px;font-weight:700;color:#111;transform:scaleX(1.0470);">Temporal trends of retraction in rheumatology by reason</div>
<div id="t43" class="t" style="left:742.2px;top:135.60px;font-size:11.1px;font-weight:700;color:#111;transform:scaleX(1.0445);">Temporal trends in rheumatology retractions by misconduct reason</div>
<div id="t44" class="t" style="left:619.2px;top:652.11px;font-size:17.0px;font-weight:400;color:#1c1c1c;transform:scaleX(1.0166);-webkit-text-stroke:0.2px #1c1c1c;">The number of retracted papers in rheumatology has increased</div>
<div id="t45" class="t" style="left:618.2px;top:671.21px;font-size:17.0px;font-weight:400;color:#1c1c1c;transform:scaleX(0.9879);-webkit-text-stroke:0.2px #1c1c1c;">over time. Most retractions are due to misconduct, mainly data</div>
<div id="t46" class="t" style="left:619.2px;top:690.11px;font-size:17.0px;font-weight:400;color:#1c1c1c;transform:scaleX(0.9825);-webkit-text-stroke:0.2px #1c1c1c;">fabrication, peer-review concerns, and duplicate publication.</div>
<div id="t47" class="t" style="left:8.6px;top:738.24px;font-size:14.6px;font-weight:400;color:#1c1c1c;transform:scaleX(1.0338);">Vettori AM, Iudici M. Retractions in rheumatology: trends, causes, and implications for research integrity.</div>
<div id="t48" class="t" style="left:8.6px;top:755.84px;font-size:14.6px;font-weight:400;color:#1c1c1c;transform:scaleX(1.0504);">Arthritis Care Res (Hoboken) 2026.</div>
</body></html>
